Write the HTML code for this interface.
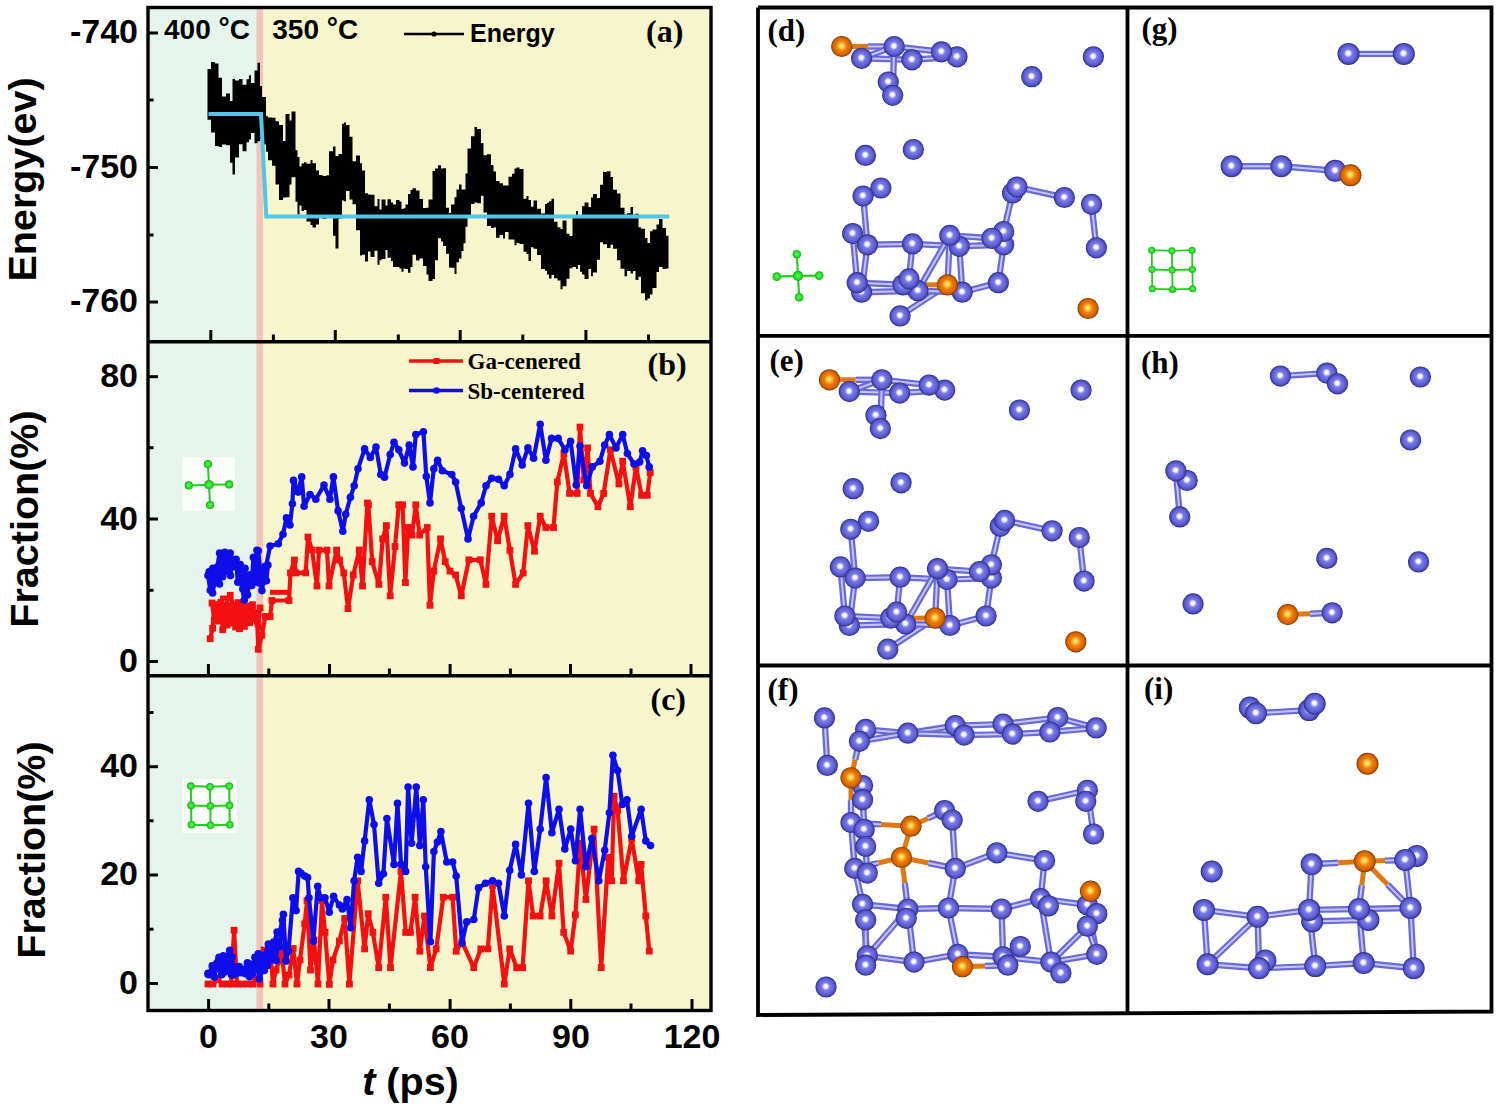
<!DOCTYPE html>
<html><head><meta charset="utf-8"><style>
html,body{margin:0;padding:0;background:#fff;overflow:hidden}
svg{display:block}
</style></head><body>
<svg width="1500" height="1108" viewBox="0 0 1500 1108">
<defs>
<radialGradient id="gp" cx="0.5" cy="0.5" r="0.5" fx="0.48" fy="0.46">
<stop offset="0" stop-color="#ffffff"/><stop offset="0.17" stop-color="#f4f4ff"/>
<stop offset="0.38" stop-color="#7a7ae6"/><stop offset="0.72" stop-color="#6060d6"/><stop offset="0.88" stop-color="#4848b4"/><stop offset="1" stop-color="#262680"/></radialGradient>
<radialGradient id="go" cx="0.5" cy="0.5" r="0.5" fx="0.48" fy="0.46">
<stop offset="0" stop-color="#ffffa0"/><stop offset="0.2" stop-color="#ffcc48"/>
<stop offset="0.48" stop-color="#ee7c06"/><stop offset="0.8" stop-color="#d86400"/><stop offset="0.92" stop-color="#a84c00"/><stop offset="1" stop-color="#6a3000"/></radialGradient>
<radialGradient id="gg" cx="0.5" cy="0.5" r="0.55">
<stop offset="0" stop-color="#5cff5c"/><stop offset="0.6" stop-color="#22dd22"/><stop offset="1" stop-color="#109a10"/></radialGradient>
</defs>
<rect width="1500" height="1108" fill="#fff"/>
<rect x="148" y="7.5" width="109" height="1003.0" fill="#e5f5ec"/>
<rect x="263" y="7.5" width="448" height="1003.0" fill="#f7f5cb"/>
<rect x="256.5" y="7.5" width="6.5" height="1003.0" fill="#f2c4bb"/>
<rect x="182" y="457" width="53" height="54" fill="#fbfdfb" opacity="0.9"/>
<rect x="182" y="779" width="55" height="54" fill="#fbfdfb" opacity="0.9"/>
<polygon points="207.5,69.0 211.0,69.0 211.0,61.9 215.0,61.9 215.0,63.5 218.5,63.5 218.5,77.8 222.0,77.8 222.0,96.5 226.0,96.5 226.0,93.5 230.0,93.5 230.0,101.1 232.5,101.1 232.5,79.0 235.0,79.0 235.0,80.5 239.0,80.5 239.0,79.0 242.5,79.0 242.5,84.8 246.5,84.8 246.5,79.2 249.0,79.2 249.0,75.2 251.0,75.2 251.0,83.1 254.5,83.1 254.5,70.4 257.5,70.4 257.5,62.7 260.0,62.7 260.0,85.9 262.0,85.9 262.0,97.1 266.0,97.1 266.0,116.2 268.0,116.2 268.0,117.6 272.0,117.6 272.0,117.7 275.5,117.7 275.5,121.2 279.0,121.2 279.0,125.1 283.0,125.1 283.0,140.9 285.5,140.9 285.5,114.1 289.5,114.1 289.5,120.4 291.5,120.4 291.5,111.5 295.5,111.5 295.5,150.3 297.5,150.3 297.5,157.0 299.5,157.0 299.5,166.5 301.5,166.5 301.5,163.4 304.0,163.4 304.0,162.2 306.5,162.2 306.5,163.8 310.5,163.8 310.5,160.1 312.5,160.1 312.5,163.2 316.0,163.2 316.0,170.5 319.0,170.5 319.0,175.0 322.5,175.0 322.5,176.0 326.5,176.0 326.5,175.3 329.0,175.3 329.0,151.2 333.0,151.2 333.0,146.5 335.5,146.5 335.5,156.0 338.5,156.0 338.5,154.1 342.0,154.1 342.0,123.7 344.0,123.7 344.0,122.4 346.0,122.4 346.0,125.1 349.5,125.1 349.5,136.7 352.5,136.7 352.5,161.3 356.0,161.3 356.0,155.4 360.0,155.4 360.0,163.2 362.0,163.2 362.0,170.5 365.0,170.5 365.0,193.3 368.0,193.3 368.0,194.4 370.5,194.4 370.5,194.7 374.5,194.7 374.5,206.3 377.5,206.3 377.5,199.1 379.5,199.1 379.5,209.5 381.5,209.5 381.5,199.5 385.5,199.5 385.5,205.6 387.5,205.6 387.5,199.3 391.0,199.3 391.0,202.5 393.0,202.5 393.0,204.5 396.0,204.5 396.0,199.9 399.5,199.9 399.5,201.5 401.5,201.5 401.5,208.9 403.5,208.9 403.5,208.3 405.5,208.3 405.5,204.6 408.0,204.6 408.0,194.0 410.5,194.0 410.5,189.9 412.5,189.9 412.5,188.3 416.0,188.3 416.0,190.5 419.5,190.5 419.5,199.0 423.0,199.0 423.0,208.1 426.5,208.1 426.5,207.8 428.5,207.8 428.5,199.4 432.5,199.4 432.5,171.0 435.0,171.0 435.0,168.6 438.0,168.6 438.0,165.2 441.0,165.2 441.0,168.6 443.0,168.6 443.0,168.2 446.0,168.2 446.0,207.8 449.0,207.8 449.0,212.9 451.0,212.9 451.0,204.6 454.5,204.6 454.5,197.3 456.5,197.3 456.5,189.5 459.0,189.5 459.0,184.6 461.5,184.6 461.5,189.6 463.5,189.6 463.5,189.5 465.5,189.5 465.5,173.5 467.5,173.5 467.5,148.6 471.0,148.6 471.0,136.3 474.5,136.3 474.5,127.0 477.0,127.0 477.0,128.9 481.0,128.9 481.0,143.1 483.5,143.1 483.5,155.2 487.0,155.2 487.0,154.2 491.0,154.2 491.0,164.9 493.5,164.9 493.5,171.5 496.0,171.5 496.0,180.9 499.5,180.9 499.5,183.2 503.0,183.2 503.0,185.6 505.0,185.6 505.0,185.6 508.5,185.6 508.5,176.7 512.0,176.7 512.0,173.7 514.5,173.7 514.5,168.4 516.5,168.4 516.5,167.5 519.5,167.5 519.5,169.1 523.5,169.1 523.5,198.8 526.5,198.8 526.5,196.1 528.5,196.1 528.5,200.1 531.0,200.1 531.0,206.8 533.5,206.8 533.5,200.5 537.0,200.5 537.0,208.8 541.0,208.8 541.0,213.4 545.0,213.4 545.0,204.1 547.0,204.1 547.0,202.8 549.0,202.8 549.0,201.2 551.5,201.2 551.5,198.7 554.0,198.7 554.0,221.7 557.5,221.7 557.5,227.2 560.5,227.2 560.5,229.1 562.5,229.1 562.5,220.5 566.5,220.5 566.5,233.7 569.5,233.7 569.5,235.9 572.5,235.9 572.5,215.2 576.0,215.2 576.0,211.1 578.0,211.1 578.0,215.4 580.0,215.4 580.0,215.4 582.0,215.4 582.0,206.2 584.5,206.2 584.5,202.6 588.5,202.6 588.5,207.1 591.0,207.1 591.0,197.6 593.0,197.6 593.0,194.1 597.0,194.1 597.0,198.0 600.0,198.0 600.0,184.7 603.0,184.7 603.0,172.0 607.0,172.0 607.0,171.3 610.5,171.3 610.5,177.0 613.0,177.0 613.0,189.7 617.0,189.7 617.0,193.6 620.5,193.6 620.5,207.7 624.5,207.7 624.5,214.6 627.0,214.6 627.0,213.3 630.5,213.3 630.5,206.9 633.0,206.9 633.0,214.7 635.5,214.7 635.5,213.7 638.5,213.7 638.5,227.3 641.0,227.3 641.0,228.8 645.0,228.8 645.0,238.1 647.5,238.1 647.5,242.9 650.0,242.9 650.0,231.2 652.5,231.2 652.5,229.5 656.5,229.5 656.5,224.6 659.0,224.6 659.0,218.9 662.5,218.9 662.5,228.0 666.0,228.0 666.0,235.7 668.5,235.7 668.5,268.4 666.0,268.4 666.0,269.1 662.5,269.1 662.5,266.9 659.0,266.9 659.0,272.0 656.5,272.0 656.5,287.9 652.5,287.9 652.5,294.4 650.0,294.4 650.0,298.5 647.5,298.5 647.5,300.2 645.0,300.2 645.0,293.3 641.0,293.3 641.0,276.7 638.5,276.7 638.5,280.0 635.5,280.0 635.5,271.0 633.0,271.0 633.0,273.6 630.5,273.6 630.5,270.9 627.0,270.9 627.0,276.3 624.5,276.3 624.5,268.7 620.5,268.7 620.5,260.2 617.0,260.2 617.0,248.7 613.0,248.7 613.0,244.8 610.5,244.8 610.5,248.1 607.0,248.1 607.0,244.2 603.0,244.2 603.0,242.3 600.0,242.3 600.0,259.8 597.0,259.8 597.0,272.5 593.0,272.5 593.0,276.3 591.0,276.3 591.0,269.1 588.5,269.1 588.5,278.9 584.5,278.9 584.5,274.6 582.0,274.6 582.0,271.7 580.0,271.7 580.0,265.1 578.0,265.1 578.0,269.0 576.0,269.0 576.0,266.9 572.5,266.9 572.5,268.2 569.5,268.2 569.5,278.8 566.5,278.8 566.5,286.2 562.5,286.2 562.5,289.3 560.5,289.3 560.5,280.4 557.5,280.4 557.5,278.2 554.0,278.2 554.0,274.9 551.5,274.9 551.5,278.5 549.0,278.5 549.0,274.4 547.0,274.4 547.0,270.8 545.0,270.8 545.0,269.0 541.0,269.0 541.0,255.1 537.0,255.1 537.0,248.7 533.5,248.7 533.5,247.2 531.0,247.2 531.0,261.1 528.5,261.1 528.5,254.0 526.5,254.0 526.5,251.7 523.5,251.7 523.5,244.1 519.5,244.1 519.5,242.9 516.5,242.9 516.5,245.3 514.5,245.3 514.5,239.4 512.0,239.4 512.0,239.6 508.5,239.6 508.5,232.0 505.0,232.0 505.0,238.5 503.0,238.5 503.0,234.9 499.5,234.9 499.5,237.7 496.0,237.7 496.0,227.5 493.5,227.5 493.5,228.1 491.0,228.1 491.0,226.1 487.0,226.1 487.0,212.6 483.5,212.6 483.5,195.8 481.0,195.8 481.0,203.3 477.0,203.3 477.0,202.4 474.5,202.4 474.5,204.1 471.0,204.1 471.0,215.5 467.5,215.5 467.5,226.7 465.5,226.7 465.5,243.2 463.5,243.2 463.5,251.0 461.5,251.0 461.5,258.6 459.0,258.6 459.0,262.3 456.5,262.3 456.5,273.9 454.5,273.9 454.5,267.7 451.0,267.7 451.0,267.5 449.0,267.5 449.0,253.8 446.0,253.8 446.0,245.9 443.0,245.9 443.0,241.5 441.0,241.5 441.0,238.3 438.0,238.3 438.0,260.3 435.0,260.3 435.0,279.0 432.5,279.0 432.5,280.9 428.5,280.9 428.5,274.4 426.5,274.4 426.5,265.9 423.0,265.9 423.0,258.6 419.5,258.6 419.5,260.6 416.0,260.6 416.0,254.8 412.5,254.8 412.5,266.9 410.5,266.9 410.5,272.8 408.0,272.8 408.0,269.1 405.5,269.1 405.5,268.4 403.5,268.4 403.5,271.8 401.5,271.8 401.5,268.6 399.5,268.6 399.5,266.9 396.0,266.9 396.0,267.1 393.0,267.1 393.0,261.1 391.0,261.1 391.0,257.8 387.5,257.8 387.5,250.0 385.5,250.0 385.5,259.0 381.5,259.0 381.5,260.3 379.5,260.3 379.5,264.7 377.5,264.7 377.5,250.8 374.5,250.8 374.5,256.9 370.5,256.9 370.5,251.6 368.0,251.6 368.0,261.5 365.0,261.5 365.0,254.8 362.0,254.8 362.0,255.4 360.0,255.4 360.0,230.2 356.0,230.2 356.0,204.3 352.5,204.3 352.5,199.5 349.5,199.5 349.5,191.1 346.0,191.1 346.0,201.3 344.0,201.3 344.0,200.5 342.0,200.5 342.0,218.6 338.5,218.6 338.5,248.4 335.5,248.4 335.5,235.7 333.0,235.7 333.0,216.5 329.0,216.5 329.0,216.2 326.5,216.2 326.5,218.7 322.5,218.7 322.5,216.3 319.0,216.3 319.0,224.5 316.0,224.5 316.0,227.4 312.5,227.4 312.5,225.1 310.5,225.1 310.5,221.5 306.5,221.5 306.5,209.9 304.0,209.9 304.0,211.0 301.5,211.0 301.5,205.5 299.5,205.5 299.5,214.4 297.5,214.4 297.5,201.8 295.5,201.8 295.5,177.2 291.5,177.2 291.5,184.6 289.5,184.6 289.5,197.2 285.5,197.2 285.5,197.5 283.0,197.5 283.0,199.9 279.0,199.9 279.0,184.4 275.5,184.4 275.5,165.8 272.0,165.8 272.0,160.2 268.0,160.2 268.0,151.7 266.0,151.7 266.0,144.4 262.0,144.4 262.0,139.1 260.0,139.1 260.0,141.2 257.5,141.2 257.5,143.3 254.5,143.3 254.5,132.9 251.0,132.9 251.0,139.6 249.0,139.6 249.0,142.2 246.5,142.2 246.5,151.2 242.5,151.2 242.5,144.2 239.0,144.2 239.0,157.6 235.0,157.6 235.0,174.4 232.5,174.4 232.5,162.7 230.0,162.7 230.0,145.2 226.0,145.2 226.0,144.6 222.0,144.6 222.0,147.0 218.5,147.0 218.5,145.9 215.0,145.9 215.0,132.5 211.0,132.5 211.0,119.7 207.5,119.7" fill="#000"/>
<polyline points="208.5,114 261,114 266.3,216.5 669.2,216.5" fill="none" stroke="#52c6e8" stroke-width="4"/>
<polyline points="210.2,638.7 212.6,628.2 215.0,604.7 218.5,621.1 223.2,609.4 230.2,595.3 236.0,614.1 241.9,604.7 246.6,618.8 252.5,604.7 257.2,621.1 258.3,649.3 261.9,635.2 265.4,616.5 270.1,616.5 272.0,600.5 289.0,600.5 290.5,572.9 294.4,560.0 296.0,572.9 305.7,572.9 308.0,537.0 312.0,550.0 317.0,586.0 319.0,550.1 327.0,550.1 329.0,586.0 336.6,550.1 339.5,560.0 343.8,573.0 348.0,608.6 353.3,574.9 359.3,550.0 362.5,586.0 367.4,503.0 368.4,504.8 372.2,561.7 378.9,584.4 382.7,538.9 386.4,525.6 390.2,595.8 395.0,546.5 398.8,504.8 402.6,504.8 405.4,582.5 408.2,527.5 412.0,535.1 415.8,504.8 419.6,535.1 427.2,527.5 430.0,605.3 433.8,571.1 440.5,538.9 445.2,561.7 450.0,571.1 455.6,574.9 461.3,595.8 468.9,559.8 480.3,559.8 486.0,584.4 491.7,516.2 497.6,540.8 504.2,516.2 509.9,550.3 515.6,584.4 523.2,573.0 527.9,525.6 534.5,551.2 540.2,516.2 545.9,527.5 553.5,527.5 557.3,482.0 563.9,453.6 569.6,493.4 577.2,493.4 580.0,427.1 583.8,480.1 587.6,447.9 590.5,493.4 598.0,506.7 603.7,493.4 610.4,449.8 618.9,483.9 622.7,461.2 630.3,506.7 636.0,466.9 641.6,495.3 647.3,495.3 650.2,472.5" fill="none" stroke="#f41010" stroke-width="4.2" stroke-linejoin="round"/>
<g fill="#f41010"><rect x="206.8" y="635.3" width="6.8" height="6.8"/><rect x="209.2" y="624.8" width="6.8" height="6.8"/><rect x="211.6" y="601.3" width="6.8" height="6.8"/><rect x="215.1" y="617.7" width="6.8" height="6.8"/><rect x="219.8" y="606.0" width="6.8" height="6.8"/><rect x="226.8" y="591.9" width="6.8" height="6.8"/><rect x="232.6" y="610.7" width="6.8" height="6.8"/><rect x="238.5" y="601.3" width="6.8" height="6.8"/><rect x="243.2" y="615.4" width="6.8" height="6.8"/><rect x="249.1" y="601.3" width="6.8" height="6.8"/><rect x="253.8" y="617.7" width="6.8" height="6.8"/><rect x="254.9" y="645.9" width="6.8" height="6.8"/><rect x="258.5" y="631.8" width="6.8" height="6.8"/><rect x="262.0" y="613.1" width="6.8" height="6.8"/><rect x="266.7" y="613.1" width="6.8" height="6.8"/><rect x="268.6" y="597.1" width="6.8" height="6.8"/><rect x="285.6" y="597.1" width="6.8" height="6.8"/><rect x="287.1" y="569.5" width="6.8" height="6.8"/><rect x="291.0" y="556.6" width="6.8" height="6.8"/><rect x="292.6" y="569.5" width="6.8" height="6.8"/><rect x="302.3" y="569.5" width="6.8" height="6.8"/><rect x="304.6" y="533.6" width="6.8" height="6.8"/><rect x="308.6" y="546.6" width="6.8" height="6.8"/><rect x="313.6" y="582.6" width="6.8" height="6.8"/><rect x="315.6" y="546.7" width="6.8" height="6.8"/><rect x="323.6" y="546.7" width="6.8" height="6.8"/><rect x="325.6" y="582.6" width="6.8" height="6.8"/><rect x="333.2" y="546.7" width="6.8" height="6.8"/><rect x="336.1" y="556.6" width="6.8" height="6.8"/><rect x="340.4" y="569.6" width="6.8" height="6.8"/><rect x="344.6" y="605.2" width="6.8" height="6.8"/><rect x="349.9" y="571.5" width="6.8" height="6.8"/><rect x="355.9" y="546.6" width="6.8" height="6.8"/><rect x="359.1" y="582.6" width="6.8" height="6.8"/><rect x="364.0" y="499.6" width="6.8" height="6.8"/><rect x="365.0" y="501.4" width="6.8" height="6.8"/><rect x="368.8" y="558.3" width="6.8" height="6.8"/><rect x="375.5" y="581.0" width="6.8" height="6.8"/><rect x="379.3" y="535.5" width="6.8" height="6.8"/><rect x="383.0" y="522.2" width="6.8" height="6.8"/><rect x="386.8" y="592.4" width="6.8" height="6.8"/><rect x="391.6" y="543.1" width="6.8" height="6.8"/><rect x="395.4" y="501.4" width="6.8" height="6.8"/><rect x="399.2" y="501.4" width="6.8" height="6.8"/><rect x="402.0" y="579.1" width="6.8" height="6.8"/><rect x="404.8" y="524.1" width="6.8" height="6.8"/><rect x="408.6" y="531.7" width="6.8" height="6.8"/><rect x="412.4" y="501.4" width="6.8" height="6.8"/><rect x="416.2" y="531.7" width="6.8" height="6.8"/><rect x="423.8" y="524.1" width="6.8" height="6.8"/><rect x="426.6" y="601.9" width="6.8" height="6.8"/><rect x="430.4" y="567.7" width="6.8" height="6.8"/><rect x="437.1" y="535.5" width="6.8" height="6.8"/><rect x="441.8" y="558.3" width="6.8" height="6.8"/><rect x="446.6" y="567.7" width="6.8" height="6.8"/><rect x="452.2" y="571.5" width="6.8" height="6.8"/><rect x="457.9" y="592.4" width="6.8" height="6.8"/><rect x="465.5" y="556.4" width="6.8" height="6.8"/><rect x="476.9" y="556.4" width="6.8" height="6.8"/><rect x="482.6" y="581.0" width="6.8" height="6.8"/><rect x="488.3" y="512.8" width="6.8" height="6.8"/><rect x="494.2" y="537.4" width="6.8" height="6.8"/><rect x="500.8" y="512.8" width="6.8" height="6.8"/><rect x="506.5" y="546.9" width="6.8" height="6.8"/><rect x="512.2" y="581.0" width="6.8" height="6.8"/><rect x="519.8" y="569.6" width="6.8" height="6.8"/><rect x="524.5" y="522.2" width="6.8" height="6.8"/><rect x="531.1" y="547.8" width="6.8" height="6.8"/><rect x="536.8" y="512.8" width="6.8" height="6.8"/><rect x="542.5" y="524.1" width="6.8" height="6.8"/><rect x="550.1" y="524.1" width="6.8" height="6.8"/><rect x="553.9" y="478.6" width="6.8" height="6.8"/><rect x="560.5" y="450.2" width="6.8" height="6.8"/><rect x="566.2" y="490.0" width="6.8" height="6.8"/><rect x="573.8" y="490.0" width="6.8" height="6.8"/><rect x="576.6" y="423.7" width="6.8" height="6.8"/><rect x="580.4" y="476.7" width="6.8" height="6.8"/><rect x="584.2" y="444.5" width="6.8" height="6.8"/><rect x="587.1" y="490.0" width="6.8" height="6.8"/><rect x="594.6" y="503.3" width="6.8" height="6.8"/><rect x="600.3" y="490.0" width="6.8" height="6.8"/><rect x="607.0" y="446.4" width="6.8" height="6.8"/><rect x="615.5" y="480.5" width="6.8" height="6.8"/><rect x="619.3" y="457.8" width="6.8" height="6.8"/><rect x="626.9" y="503.3" width="6.8" height="6.8"/><rect x="632.6" y="463.5" width="6.8" height="6.8"/><rect x="638.2" y="491.9" width="6.8" height="6.8"/><rect x="643.9" y="491.9" width="6.8" height="6.8"/><rect x="646.8" y="469.1" width="6.8" height="6.8"/></g>
<polyline points="214.0,615.0 226.0,615.0 226.0,622.0 240.0,622.0 240.0,612.0 252.0,612.0" fill="none" stroke="#f41010" stroke-width="5"/>
<polyline points="270.0,592.3 289.0,592.3" fill="none" stroke="#f41010" stroke-width="5"/>
<polyline points="220.0,598.0 232.0,598.0" fill="none" stroke="#f41010" stroke-width="5"/>
<polyline points="256.0,628.0 264.0,628.0" fill="none" stroke="#f41010" stroke-width="5"/>
<polyline points="256.0,642.0 262.0,642.0" fill="none" stroke="#f41010" stroke-width="5"/>
<polyline points="212.0,603.0 214.3,620.2 216.6,607.6 218.2,615.7 220.9,602.3 222.7,629.7 224.9,610.2 227.0,625.1 228.8,605.7 231.5,622.9 234.0,605.6 235.6,627.0 237.9,602.6 239.5,628.7 241.7,609.9 244.4,626.4 247.1,605.9 249.7,622.7 252.5,612.4 254.2,618.4 256.0,613.4 258.1,624.1 260.1,607.9" fill="none" stroke="#f41010" stroke-width="4.2" stroke-linejoin="round"/>
<g fill="#f41010"><rect x="208.6" y="599.6" width="6.8" height="6.8"/><rect x="210.9" y="616.8" width="6.8" height="6.8"/><rect x="213.2" y="604.2" width="6.8" height="6.8"/><rect x="214.8" y="612.3" width="6.8" height="6.8"/><rect x="217.5" y="598.9" width="6.8" height="6.8"/><rect x="219.3" y="626.3" width="6.8" height="6.8"/><rect x="221.5" y="606.8" width="6.8" height="6.8"/><rect x="223.6" y="621.7" width="6.8" height="6.8"/><rect x="225.4" y="602.3" width="6.8" height="6.8"/><rect x="228.1" y="619.5" width="6.8" height="6.8"/><rect x="230.6" y="602.2" width="6.8" height="6.8"/><rect x="232.2" y="623.6" width="6.8" height="6.8"/><rect x="234.5" y="599.2" width="6.8" height="6.8"/><rect x="236.1" y="625.3" width="6.8" height="6.8"/><rect x="238.3" y="606.5" width="6.8" height="6.8"/><rect x="241.0" y="623.0" width="6.8" height="6.8"/><rect x="243.7" y="602.5" width="6.8" height="6.8"/><rect x="246.3" y="619.3" width="6.8" height="6.8"/><rect x="249.1" y="609.0" width="6.8" height="6.8"/><rect x="250.8" y="615.0" width="6.8" height="6.8"/><rect x="252.6" y="610.0" width="6.8" height="6.8"/><rect x="254.7" y="620.7" width="6.8" height="6.8"/><rect x="256.7" y="604.5" width="6.8" height="6.8"/></g>
<polyline points="209.1,571.9 212.6,593.0 216.1,574.2 219.6,553.1 224.3,571.9 230.2,553.1 234.9,564.8 239.6,574.2 244.3,600.0 249.0,579.0 253.7,574.2 258.3,550.8 261.9,590.6 265.4,569.5 270.1,546.0 278.3,543.7 283.0,534.3 286.5,517.9 290.0,525.0 292.4,503.8 293.5,480.4 298.2,492.1 301.7,476.9 304.1,506.2 310.0,494.5 315.8,499.2 324.0,485.1 329.9,499.2 333.4,476.9 338.1,510.9 342.8,531.3 345.7,514.3 350.4,497.2 354.2,485.8 358.0,468.8 364.6,448.9 370.3,457.4 376.0,447.0 380.8,474.5 384.5,477.3 390.2,454.5 394.0,442.2 398.8,449.8 404.5,463.1 409.2,445.1 413.0,466.9 415.8,434.6 423.4,431.8 426.3,476.4 430.0,502.9 433.8,468.8 437.6,460.2 442.4,470.7 451.8,474.5 455.6,482.0 461.3,508.6 468.0,538.9 473.6,516.2 481.2,502.9 486.0,485.8 491.7,478.2 498.5,479.2 504.2,485.8 509.9,474.4 515.6,448.9 522.2,465.0 527.9,447.9 533.6,458.3 540.2,424.2 545.9,460.2 551.6,438.4 558.2,438.4 564.9,449.8 570.6,441.3 576.2,484.9 580.0,446.0 586.7,485.8 592.3,466.9 599.9,461.2 604.7,445.1 609.4,434.6 616.0,447.9 622.7,434.6 627.4,453.6 634.0,464.0 639.7,462.1 642.6,450.7 646.4,455.5 649.2,466.9" fill="none" stroke="#0e0eea" stroke-width="4.2" stroke-linejoin="round"/>
<g fill="#0e0eea"><circle cx="209.1" cy="571.9" r="3.8"/><circle cx="212.6" cy="593.0" r="3.8"/><circle cx="216.1" cy="574.2" r="3.8"/><circle cx="219.6" cy="553.1" r="3.8"/><circle cx="224.3" cy="571.9" r="3.8"/><circle cx="230.2" cy="553.1" r="3.8"/><circle cx="234.9" cy="564.8" r="3.8"/><circle cx="239.6" cy="574.2" r="3.8"/><circle cx="244.3" cy="600.0" r="3.8"/><circle cx="249.0" cy="579.0" r="3.8"/><circle cx="253.7" cy="574.2" r="3.8"/><circle cx="258.3" cy="550.8" r="3.8"/><circle cx="261.9" cy="590.6" r="3.8"/><circle cx="265.4" cy="569.5" r="3.8"/><circle cx="270.1" cy="546.0" r="3.8"/><circle cx="278.3" cy="543.7" r="3.8"/><circle cx="283.0" cy="534.3" r="3.8"/><circle cx="286.5" cy="517.9" r="3.8"/><circle cx="290.0" cy="525.0" r="3.8"/><circle cx="292.4" cy="503.8" r="3.8"/><circle cx="293.5" cy="480.4" r="3.8"/><circle cx="298.2" cy="492.1" r="3.8"/><circle cx="301.7" cy="476.9" r="3.8"/><circle cx="304.1" cy="506.2" r="3.8"/><circle cx="310.0" cy="494.5" r="3.8"/><circle cx="315.8" cy="499.2" r="3.8"/><circle cx="324.0" cy="485.1" r="3.8"/><circle cx="329.9" cy="499.2" r="3.8"/><circle cx="333.4" cy="476.9" r="3.8"/><circle cx="338.1" cy="510.9" r="3.8"/><circle cx="342.8" cy="531.3" r="3.8"/><circle cx="345.7" cy="514.3" r="3.8"/><circle cx="350.4" cy="497.2" r="3.8"/><circle cx="354.2" cy="485.8" r="3.8"/><circle cx="358.0" cy="468.8" r="3.8"/><circle cx="364.6" cy="448.9" r="3.8"/><circle cx="370.3" cy="457.4" r="3.8"/><circle cx="376.0" cy="447.0" r="3.8"/><circle cx="380.8" cy="474.5" r="3.8"/><circle cx="384.5" cy="477.3" r="3.8"/><circle cx="390.2" cy="454.5" r="3.8"/><circle cx="394.0" cy="442.2" r="3.8"/><circle cx="398.8" cy="449.8" r="3.8"/><circle cx="404.5" cy="463.1" r="3.8"/><circle cx="409.2" cy="445.1" r="3.8"/><circle cx="413.0" cy="466.9" r="3.8"/><circle cx="415.8" cy="434.6" r="3.8"/><circle cx="423.4" cy="431.8" r="3.8"/><circle cx="426.3" cy="476.4" r="3.8"/><circle cx="430.0" cy="502.9" r="3.8"/><circle cx="433.8" cy="468.8" r="3.8"/><circle cx="437.6" cy="460.2" r="3.8"/><circle cx="442.4" cy="470.7" r="3.8"/><circle cx="451.8" cy="474.5" r="3.8"/><circle cx="455.6" cy="482.0" r="3.8"/><circle cx="461.3" cy="508.6" r="3.8"/><circle cx="468.0" cy="538.9" r="3.8"/><circle cx="473.6" cy="516.2" r="3.8"/><circle cx="481.2" cy="502.9" r="3.8"/><circle cx="486.0" cy="485.8" r="3.8"/><circle cx="491.7" cy="478.2" r="3.8"/><circle cx="498.5" cy="479.2" r="3.8"/><circle cx="504.2" cy="485.8" r="3.8"/><circle cx="509.9" cy="474.4" r="3.8"/><circle cx="515.6" cy="448.9" r="3.8"/><circle cx="522.2" cy="465.0" r="3.8"/><circle cx="527.9" cy="447.9" r="3.8"/><circle cx="533.6" cy="458.3" r="3.8"/><circle cx="540.2" cy="424.2" r="3.8"/><circle cx="545.9" cy="460.2" r="3.8"/><circle cx="551.6" cy="438.4" r="3.8"/><circle cx="558.2" cy="438.4" r="3.8"/><circle cx="564.9" cy="449.8" r="3.8"/><circle cx="570.6" cy="441.3" r="3.8"/><circle cx="576.2" cy="484.9" r="3.8"/><circle cx="580.0" cy="446.0" r="3.8"/><circle cx="586.7" cy="485.8" r="3.8"/><circle cx="592.3" cy="466.9" r="3.8"/><circle cx="599.9" cy="461.2" r="3.8"/><circle cx="604.7" cy="445.1" r="3.8"/><circle cx="609.4" cy="434.6" r="3.8"/><circle cx="616.0" cy="447.9" r="3.8"/><circle cx="622.7" cy="434.6" r="3.8"/><circle cx="627.4" cy="453.6" r="3.8"/><circle cx="634.0" cy="464.0" r="3.8"/><circle cx="639.7" cy="462.1" r="3.8"/><circle cx="642.6" cy="450.7" r="3.8"/><circle cx="646.4" cy="455.5" r="3.8"/><circle cx="649.2" cy="466.9" r="3.8"/></g>
<polyline points="208.0,575.6 210.3,590.3 212.8,568.3 215.3,572.8 217.3,567.0 219.5,584.0 221.0,558.8 222.7,576.8 224.8,552.2 226.4,571.4 228.9,561.3 230.5,575.6 232.1,560.2 233.7,566.6 236.1,559.2 237.8,582.3 240.2,564.5 242.8,589.1 245.0,568.4 247.5,594.9 250.1,574.7 251.8,585.5 253.4,557.4 254.9,581.8 257.0,550.3 259.2,583.0 261.0,569.0 263.0,582.0 265.0,566.2 266.4,580.8 267.9,565.1" fill="none" stroke="#0e0eea" stroke-width="4.2" stroke-linejoin="round"/>
<g fill="#0e0eea"><circle cx="208.0" cy="575.6" r="3.8"/><circle cx="210.3" cy="590.3" r="3.8"/><circle cx="212.8" cy="568.3" r="3.8"/><circle cx="215.3" cy="572.8" r="3.8"/><circle cx="217.3" cy="567.0" r="3.8"/><circle cx="219.5" cy="584.0" r="3.8"/><circle cx="221.0" cy="558.8" r="3.8"/><circle cx="222.7" cy="576.8" r="3.8"/><circle cx="224.8" cy="552.2" r="3.8"/><circle cx="226.4" cy="571.4" r="3.8"/><circle cx="228.9" cy="561.3" r="3.8"/><circle cx="230.5" cy="575.6" r="3.8"/><circle cx="232.1" cy="560.2" r="3.8"/><circle cx="233.7" cy="566.6" r="3.8"/><circle cx="236.1" cy="559.2" r="3.8"/><circle cx="237.8" cy="582.3" r="3.8"/><circle cx="240.2" cy="564.5" r="3.8"/><circle cx="242.8" cy="589.1" r="3.8"/><circle cx="245.0" cy="568.4" r="3.8"/><circle cx="247.5" cy="594.9" r="3.8"/><circle cx="250.1" cy="574.7" r="3.8"/><circle cx="251.8" cy="585.5" r="3.8"/><circle cx="253.4" cy="557.4" r="3.8"/><circle cx="254.9" cy="581.8" r="3.8"/><circle cx="257.0" cy="550.3" r="3.8"/><circle cx="259.2" cy="583.0" r="3.8"/><circle cx="261.0" cy="569.0" r="3.8"/><circle cx="263.0" cy="582.0" r="3.8"/><circle cx="265.0" cy="566.2" r="3.8"/><circle cx="266.4" cy="580.8" r="3.8"/><circle cx="267.9" cy="565.1" r="3.8"/></g>
<polyline points="208.0,984.0 213.0,984.0 218.0,979.0 222.0,984.0 228.0,984.0 231.0,984.0 234.1,930.2 237.0,984.0 243.0,984.0 248.0,984.0 252.8,984.0 256.0,978.0 260.0,984.0 264.0,950.0 267.2,965.6 270.0,948.0 273.0,984.0 276.0,970.0 279.0,961.0 281.6,949.7 285.0,984.0 289.0,975.0 293.2,948.5 297.0,984.0 300.0,960.0 304.7,923.8 307.0,900.6 310.5,970.0 314.0,940.0 318.0,984.0 322.0,900.6 325.0,932.4 329.3,984.4 333.0,960.0 339.4,941.0 344.7,918.4 349.4,984.1 357.6,880.8 364.6,948.9 368.2,913.7 372.9,932.4 378.7,967.6 385.8,897.2 390.5,967.6 401.0,871.4 405.7,932.4 410.4,932.4 415.1,897.2 419.8,951.2 424.5,916.0 430.4,967.6 436.2,948.9 443.3,897.2 452.6,897.2 456.2,951.2 462.0,941.8 473.8,967.6 480.8,948.9 487.9,948.9 492.5,885.5 504.3,984.1 509.7,948.8 516.7,967.6 522.6,967.6 528.5,880.8 533.2,916.0 540.2,916.0 546.1,880.8 551.9,916.0 559.0,863.2 563.7,932.4 570.7,951.1 575.4,914.8 580.1,843.2 585.9,899.5 594.1,829.1 601.2,967.6 608.2,857.3 611.7,880.8 614.1,796.3 617.6,810.4 623.5,880.8 631.7,838.5 638.7,880.8 641.1,864.4 645.8,916.0 649.3,951.1" fill="none" stroke="#f41010" stroke-width="4.2" stroke-linejoin="round"/>
<g fill="#f41010"><rect x="204.6" y="980.6" width="6.8" height="6.8"/><rect x="209.6" y="980.6" width="6.8" height="6.8"/><rect x="214.6" y="975.6" width="6.8" height="6.8"/><rect x="218.6" y="980.6" width="6.8" height="6.8"/><rect x="224.6" y="980.6" width="6.8" height="6.8"/><rect x="227.6" y="980.6" width="6.8" height="6.8"/><rect x="230.7" y="926.8" width="6.8" height="6.8"/><rect x="233.6" y="980.6" width="6.8" height="6.8"/><rect x="239.6" y="980.6" width="6.8" height="6.8"/><rect x="244.6" y="980.6" width="6.8" height="6.8"/><rect x="249.4" y="980.6" width="6.8" height="6.8"/><rect x="252.6" y="974.6" width="6.8" height="6.8"/><rect x="256.6" y="980.6" width="6.8" height="6.8"/><rect x="260.6" y="946.6" width="6.8" height="6.8"/><rect x="263.8" y="962.2" width="6.8" height="6.8"/><rect x="266.6" y="944.6" width="6.8" height="6.8"/><rect x="269.6" y="980.6" width="6.8" height="6.8"/><rect x="272.6" y="966.6" width="6.8" height="6.8"/><rect x="275.6" y="957.6" width="6.8" height="6.8"/><rect x="278.2" y="946.3" width="6.8" height="6.8"/><rect x="281.6" y="980.6" width="6.8" height="6.8"/><rect x="285.6" y="971.6" width="6.8" height="6.8"/><rect x="289.8" y="945.1" width="6.8" height="6.8"/><rect x="293.6" y="980.6" width="6.8" height="6.8"/><rect x="296.6" y="956.6" width="6.8" height="6.8"/><rect x="301.3" y="920.4" width="6.8" height="6.8"/><rect x="303.6" y="897.2" width="6.8" height="6.8"/><rect x="307.1" y="966.6" width="6.8" height="6.8"/><rect x="310.6" y="936.6" width="6.8" height="6.8"/><rect x="314.6" y="980.6" width="6.8" height="6.8"/><rect x="318.6" y="897.2" width="6.8" height="6.8"/><rect x="321.6" y="929.0" width="6.8" height="6.8"/><rect x="325.9" y="981.0" width="6.8" height="6.8"/><rect x="329.6" y="956.6" width="6.8" height="6.8"/><rect x="336.0" y="937.6" width="6.8" height="6.8"/><rect x="341.3" y="915.0" width="6.8" height="6.8"/><rect x="346.0" y="980.7" width="6.8" height="6.8"/><rect x="354.2" y="877.4" width="6.8" height="6.8"/><rect x="361.2" y="945.5" width="6.8" height="6.8"/><rect x="364.8" y="910.3" width="6.8" height="6.8"/><rect x="369.5" y="929.0" width="6.8" height="6.8"/><rect x="375.3" y="964.2" width="6.8" height="6.8"/><rect x="382.4" y="893.8" width="6.8" height="6.8"/><rect x="387.1" y="964.2" width="6.8" height="6.8"/><rect x="397.6" y="868.0" width="6.8" height="6.8"/><rect x="402.3" y="929.0" width="6.8" height="6.8"/><rect x="407.0" y="929.0" width="6.8" height="6.8"/><rect x="411.7" y="893.8" width="6.8" height="6.8"/><rect x="416.4" y="947.8" width="6.8" height="6.8"/><rect x="421.1" y="912.6" width="6.8" height="6.8"/><rect x="427.0" y="964.2" width="6.8" height="6.8"/><rect x="432.8" y="945.5" width="6.8" height="6.8"/><rect x="439.9" y="893.8" width="6.8" height="6.8"/><rect x="449.2" y="893.8" width="6.8" height="6.8"/><rect x="452.8" y="947.8" width="6.8" height="6.8"/><rect x="458.6" y="938.4" width="6.8" height="6.8"/><rect x="470.4" y="964.2" width="6.8" height="6.8"/><rect x="477.4" y="945.5" width="6.8" height="6.8"/><rect x="484.5" y="945.5" width="6.8" height="6.8"/><rect x="489.1" y="882.1" width="6.8" height="6.8"/><rect x="500.9" y="980.7" width="6.8" height="6.8"/><rect x="506.3" y="945.4" width="6.8" height="6.8"/><rect x="513.3" y="964.2" width="6.8" height="6.8"/><rect x="519.2" y="964.2" width="6.8" height="6.8"/><rect x="525.1" y="877.4" width="6.8" height="6.8"/><rect x="529.8" y="912.6" width="6.8" height="6.8"/><rect x="536.8" y="912.6" width="6.8" height="6.8"/><rect x="542.7" y="877.4" width="6.8" height="6.8"/><rect x="548.5" y="912.6" width="6.8" height="6.8"/><rect x="555.6" y="859.8" width="6.8" height="6.8"/><rect x="560.3" y="929.0" width="6.8" height="6.8"/><rect x="567.3" y="947.7" width="6.8" height="6.8"/><rect x="572.0" y="911.4" width="6.8" height="6.8"/><rect x="576.7" y="839.8" width="6.8" height="6.8"/><rect x="582.5" y="896.1" width="6.8" height="6.8"/><rect x="590.7" y="825.7" width="6.8" height="6.8"/><rect x="597.8" y="964.2" width="6.8" height="6.8"/><rect x="604.8" y="853.9" width="6.8" height="6.8"/><rect x="608.3" y="877.4" width="6.8" height="6.8"/><rect x="610.7" y="792.9" width="6.8" height="6.8"/><rect x="614.2" y="807.0" width="6.8" height="6.8"/><rect x="620.1" y="877.4" width="6.8" height="6.8"/><rect x="628.3" y="835.1" width="6.8" height="6.8"/><rect x="635.3" y="877.4" width="6.8" height="6.8"/><rect x="637.7" y="861.0" width="6.8" height="6.8"/><rect x="642.4" y="912.6" width="6.8" height="6.8"/><rect x="645.9" y="947.7" width="6.8" height="6.8"/></g>
<polyline points="208.2,974.4 212.6,966.2 219.0,957.3 224.0,961.1 229.7,950.4 231.6,975.0 236.7,967.5 241.7,971.3 246.8,967.5 253.1,965.0 258.2,954.2 259.4,978.8 264.5,956.1 268.3,944.1 273.3,946.0 277.1,932.1 279.6,933.3 283.4,914.4 286.0,961.1 288.5,951.0 292.9,897.9 296.1,910.6 298.6,871.4 301.1,873.2 304.7,876.1 307.6,877.5 309.0,897.8 313.4,941.1 317.7,886.2 320.6,897.8 325.0,897.8 329.3,912.2 333.6,896.3 339.4,905.0 342.3,909.0 347.0,899.6 350.6,927.7 354.1,880.8 357.6,857.3 361.1,871.4 364.6,840.9 369.3,799.8 374.0,824.5 378.7,883.2 383.4,873.8 386.9,818.6 394.0,864.4 397.5,803.4 401.0,864.4 405.7,871.4 408.1,787.0 411.6,843.3 416.3,787.0 419.8,845.6 423.3,799.8 425.7,866.7 430.4,941.8 433.9,851.5 437.4,842.1 440.9,831.5 446.8,862.0 452.6,862.0 456.2,876.1 462.0,943.0 466.7,921.9 473.8,919.5 478.5,887.9 485.5,883.2 492.5,880.8 498.4,883.2 504.3,916.0 509.7,870.2 515.6,844.4 521.4,874.9 528.5,803.3 534.3,871.4 540.2,829.1 546.1,777.5 551.9,832.7 559.0,809.2 564.8,849.1 570.7,829.1 575.4,860.8 580.1,809.2 585.9,866.7 591.8,838.5 598.8,880.8 604.7,850.3 609.4,812.7 612.9,755.2 617.6,770.5 622.3,804.5 627.0,799.8 631.7,836.2 641.1,809.2 645.8,840.9 650.5,845.6" fill="none" stroke="#0e0eea" stroke-width="4.2" stroke-linejoin="round"/>
<g fill="#0e0eea"><circle cx="208.2" cy="974.4" r="3.8"/><circle cx="212.6" cy="966.2" r="3.8"/><circle cx="219.0" cy="957.3" r="3.8"/><circle cx="224.0" cy="961.1" r="3.8"/><circle cx="229.7" cy="950.4" r="3.8"/><circle cx="231.6" cy="975.0" r="3.8"/><circle cx="236.7" cy="967.5" r="3.8"/><circle cx="241.7" cy="971.3" r="3.8"/><circle cx="246.8" cy="967.5" r="3.8"/><circle cx="253.1" cy="965.0" r="3.8"/><circle cx="258.2" cy="954.2" r="3.8"/><circle cx="259.4" cy="978.8" r="3.8"/><circle cx="264.5" cy="956.1" r="3.8"/><circle cx="268.3" cy="944.1" r="3.8"/><circle cx="273.3" cy="946.0" r="3.8"/><circle cx="277.1" cy="932.1" r="3.8"/><circle cx="279.6" cy="933.3" r="3.8"/><circle cx="283.4" cy="914.4" r="3.8"/><circle cx="286.0" cy="961.1" r="3.8"/><circle cx="288.5" cy="951.0" r="3.8"/><circle cx="292.9" cy="897.9" r="3.8"/><circle cx="296.1" cy="910.6" r="3.8"/><circle cx="298.6" cy="871.4" r="3.8"/><circle cx="301.1" cy="873.2" r="3.8"/><circle cx="304.7" cy="876.1" r="3.8"/><circle cx="307.6" cy="877.5" r="3.8"/><circle cx="309.0" cy="897.8" r="3.8"/><circle cx="313.4" cy="941.1" r="3.8"/><circle cx="317.7" cy="886.2" r="3.8"/><circle cx="320.6" cy="897.8" r="3.8"/><circle cx="325.0" cy="897.8" r="3.8"/><circle cx="329.3" cy="912.2" r="3.8"/><circle cx="333.6" cy="896.3" r="3.8"/><circle cx="339.4" cy="905.0" r="3.8"/><circle cx="342.3" cy="909.0" r="3.8"/><circle cx="347.0" cy="899.6" r="3.8"/><circle cx="350.6" cy="927.7" r="3.8"/><circle cx="354.1" cy="880.8" r="3.8"/><circle cx="357.6" cy="857.3" r="3.8"/><circle cx="361.1" cy="871.4" r="3.8"/><circle cx="364.6" cy="840.9" r="3.8"/><circle cx="369.3" cy="799.8" r="3.8"/><circle cx="374.0" cy="824.5" r="3.8"/><circle cx="378.7" cy="883.2" r="3.8"/><circle cx="383.4" cy="873.8" r="3.8"/><circle cx="386.9" cy="818.6" r="3.8"/><circle cx="394.0" cy="864.4" r="3.8"/><circle cx="397.5" cy="803.4" r="3.8"/><circle cx="401.0" cy="864.4" r="3.8"/><circle cx="405.7" cy="871.4" r="3.8"/><circle cx="408.1" cy="787.0" r="3.8"/><circle cx="411.6" cy="843.3" r="3.8"/><circle cx="416.3" cy="787.0" r="3.8"/><circle cx="419.8" cy="845.6" r="3.8"/><circle cx="423.3" cy="799.8" r="3.8"/><circle cx="425.7" cy="866.7" r="3.8"/><circle cx="430.4" cy="941.8" r="3.8"/><circle cx="433.9" cy="851.5" r="3.8"/><circle cx="437.4" cy="842.1" r="3.8"/><circle cx="440.9" cy="831.5" r="3.8"/><circle cx="446.8" cy="862.0" r="3.8"/><circle cx="452.6" cy="862.0" r="3.8"/><circle cx="456.2" cy="876.1" r="3.8"/><circle cx="462.0" cy="943.0" r="3.8"/><circle cx="466.7" cy="921.9" r="3.8"/><circle cx="473.8" cy="919.5" r="3.8"/><circle cx="478.5" cy="887.9" r="3.8"/><circle cx="485.5" cy="883.2" r="3.8"/><circle cx="492.5" cy="880.8" r="3.8"/><circle cx="498.4" cy="883.2" r="3.8"/><circle cx="504.3" cy="916.0" r="3.8"/><circle cx="509.7" cy="870.2" r="3.8"/><circle cx="515.6" cy="844.4" r="3.8"/><circle cx="521.4" cy="874.9" r="3.8"/><circle cx="528.5" cy="803.3" r="3.8"/><circle cx="534.3" cy="871.4" r="3.8"/><circle cx="540.2" cy="829.1" r="3.8"/><circle cx="546.1" cy="777.5" r="3.8"/><circle cx="551.9" cy="832.7" r="3.8"/><circle cx="559.0" cy="809.2" r="3.8"/><circle cx="564.8" cy="849.1" r="3.8"/><circle cx="570.7" cy="829.1" r="3.8"/><circle cx="575.4" cy="860.8" r="3.8"/><circle cx="580.1" cy="809.2" r="3.8"/><circle cx="585.9" cy="866.7" r="3.8"/><circle cx="591.8" cy="838.5" r="3.8"/><circle cx="598.8" cy="880.8" r="3.8"/><circle cx="604.7" cy="850.3" r="3.8"/><circle cx="609.4" cy="812.7" r="3.8"/><circle cx="612.9" cy="755.2" r="3.8"/><circle cx="617.6" cy="770.5" r="3.8"/><circle cx="622.3" cy="804.5" r="3.8"/><circle cx="627.0" cy="799.8" r="3.8"/><circle cx="631.7" cy="836.2" r="3.8"/><circle cx="641.1" cy="809.2" r="3.8"/><circle cx="645.8" cy="840.9" r="3.8"/><circle cx="650.5" cy="845.6" r="3.8"/></g>
<polyline points="208.0,973.3 209.8,974.6 212.3,965.9 214.3,977.1 215.8,965.1 217.9,969.1 219.8,962.4 221.7,974.7 223.3,955.9 224.8,971.9 227.4,958.2 229.7,969.8 232.0,956.9 233.7,974.8 236.0,967.3 237.5,973.1 239.2,966.5 241.5,972.7 244.0,969.8 245.5,973.7 247.4,962.7 249.4,976.7 250.9,964.0 252.4,973.8 254.9,957.2 256.3,968.1 258.4,953.7 259.9,972.2 262.4,956.5 264.3,970.4 265.8,954.8 267.4,965.4 269.9,945.6 272.0,959.7 273.6,942.0 276.2,960.6 277.7,941.1 280.2,946.7 282.4,920.3" fill="none" stroke="#0e0eea" stroke-width="4.2" stroke-linejoin="round"/>
<g fill="#0e0eea"><circle cx="208.0" cy="973.3" r="3.8"/><circle cx="209.8" cy="974.6" r="3.8"/><circle cx="212.3" cy="965.9" r="3.8"/><circle cx="214.3" cy="977.1" r="3.8"/><circle cx="215.8" cy="965.1" r="3.8"/><circle cx="217.9" cy="969.1" r="3.8"/><circle cx="219.8" cy="962.4" r="3.8"/><circle cx="221.7" cy="974.7" r="3.8"/><circle cx="223.3" cy="955.9" r="3.8"/><circle cx="224.8" cy="971.9" r="3.8"/><circle cx="227.4" cy="958.2" r="3.8"/><circle cx="229.7" cy="969.8" r="3.8"/><circle cx="232.0" cy="956.9" r="3.8"/><circle cx="233.7" cy="974.8" r="3.8"/><circle cx="236.0" cy="967.3" r="3.8"/><circle cx="237.5" cy="973.1" r="3.8"/><circle cx="239.2" cy="966.5" r="3.8"/><circle cx="241.5" cy="972.7" r="3.8"/><circle cx="244.0" cy="969.8" r="3.8"/><circle cx="245.5" cy="973.7" r="3.8"/><circle cx="247.4" cy="962.7" r="3.8"/><circle cx="249.4" cy="976.7" r="3.8"/><circle cx="250.9" cy="964.0" r="3.8"/><circle cx="252.4" cy="973.8" r="3.8"/><circle cx="254.9" cy="957.2" r="3.8"/><circle cx="256.3" cy="968.1" r="3.8"/><circle cx="258.4" cy="953.7" r="3.8"/><circle cx="259.9" cy="972.2" r="3.8"/><circle cx="262.4" cy="956.5" r="3.8"/><circle cx="264.3" cy="970.4" r="3.8"/><circle cx="265.8" cy="954.8" r="3.8"/><circle cx="267.4" cy="965.4" r="3.8"/><circle cx="269.9" cy="945.6" r="3.8"/><circle cx="272.0" cy="959.7" r="3.8"/><circle cx="273.6" cy="942.0" r="3.8"/><circle cx="276.2" cy="960.6" r="3.8"/><circle cx="277.7" cy="941.1" r="3.8"/><circle cx="280.2" cy="946.7" r="3.8"/><circle cx="282.4" cy="920.3" r="3.8"/></g>
<g stroke="#000" fill="none">
<rect x="148" y="7.5" width="563" height="1003.0" stroke-width="3.4"/>
<line x1="148" y1="341.8" x2="711" y2="341.8" stroke-width="3.6"/>
<line x1="148" y1="675.7" x2="711" y2="675.7" stroke-width="3.6"/>
<g stroke-width="3"><line x1="148" y1="33" x2="158" y2="33"/><line x1="148" y1="100" x2="153.5" y2="100"/><line x1="148" y1="167.5" x2="158" y2="167.5"/><line x1="148" y1="235" x2="153.5" y2="235"/><line x1="148" y1="302" x2="158" y2="302"/><line x1="210.8" y1="340" x2="210.8" y2="330"/><line x1="273.4" y1="340" x2="273.4" y2="334.5"/><line x1="335.3" y1="340" x2="335.3" y2="330"/><line x1="398.3" y1="340" x2="398.3" y2="334.5"/><line x1="460.2" y1="340" x2="460.2" y2="330"/><line x1="522.8" y1="340" x2="522.8" y2="334.5"/><line x1="585.9" y1="340" x2="585.9" y2="330"/><line x1="648.5" y1="340" x2="648.5" y2="334.5"/><line x1="148" y1="661.5" x2="158" y2="661.5"/><line x1="148" y1="590.3" x2="153.5" y2="590.3"/><line x1="148" y1="519" x2="158" y2="519"/><line x1="148" y1="447.7" x2="153.5" y2="447.7"/><line x1="148" y1="376.7" x2="158" y2="376.7"/><line x1="208.4" y1="674" x2="208.4" y2="664"/><line x1="268.8" y1="674" x2="268.8" y2="668.5"/><line x1="329.5" y1="674" x2="329.5" y2="664"/><line x1="389.4" y1="674" x2="389.4" y2="668.5"/><line x1="450.1" y1="674" x2="450.1" y2="664"/><line x1="510.4" y1="674" x2="510.4" y2="668.5"/><line x1="570.5" y1="674" x2="570.5" y2="664"/><line x1="631" y1="674" x2="631" y2="668.5"/><line x1="691" y1="674" x2="691" y2="664"/><line x1="148" y1="983.5" x2="158" y2="983.5"/><line x1="148" y1="929.2" x2="153.5" y2="929.2"/><line x1="148" y1="875" x2="158" y2="875"/><line x1="148" y1="820.8" x2="153.5" y2="820.8"/><line x1="148" y1="766.7" x2="158" y2="766.7"/><line x1="148" y1="712.5" x2="153.5" y2="712.5"/><line x1="208.6" y1="1009" x2="208.6" y2="999"/><line x1="268.8" y1="1009" x2="268.8" y2="1003.5"/><line x1="329" y1="1009" x2="329" y2="999"/><line x1="389.4" y1="1009" x2="389.4" y2="1003.5"/><line x1="450.1" y1="1009" x2="450.1" y2="999"/><line x1="510.4" y1="1009" x2="510.4" y2="1003.5"/><line x1="570.8" y1="1009" x2="570.8" y2="999"/><line x1="631" y1="1009" x2="631" y2="1003.5"/><line x1="692" y1="1009" x2="692" y2="999"/></g>
</g>
<text x="138" y="43.2" font-size="34" text-anchor="end" font-family="Liberation Sans, sans-serif" font-weight="bold" >-740</text>
<text x="138" y="177.89999999999998" font-size="34" text-anchor="end" font-family="Liberation Sans, sans-serif" font-weight="bold" >-750</text>
<text x="138" y="312.2" font-size="34" text-anchor="end" font-family="Liberation Sans, sans-serif" font-weight="bold" >-760</text>
<text x="138" y="386.9" font-size="34" text-anchor="end" font-family="Liberation Sans, sans-serif" font-weight="bold" >80</text>
<text x="138" y="529.5" font-size="34" text-anchor="end" font-family="Liberation Sans, sans-serif" font-weight="bold" >40</text>
<text x="138" y="671.8000000000001" font-size="34" text-anchor="end" font-family="Liberation Sans, sans-serif" font-weight="bold" >0</text>
<text x="138" y="777.4000000000001" font-size="34" text-anchor="end" font-family="Liberation Sans, sans-serif" font-weight="bold" >40</text>
<text x="138" y="885.2" font-size="34" text-anchor="end" font-family="Liberation Sans, sans-serif" font-weight="bold" >20</text>
<text x="138" y="993.7" font-size="34" text-anchor="end" font-family="Liberation Sans, sans-serif" font-weight="bold" >0</text>
<text x="208.5" y="1048" font-size="34" text-anchor="middle" font-family="Liberation Sans, sans-serif" font-weight="bold" >0</text>
<text x="329" y="1048" font-size="34" text-anchor="middle" font-family="Liberation Sans, sans-serif" font-weight="bold" >30</text>
<text x="450" y="1048" font-size="34" text-anchor="middle" font-family="Liberation Sans, sans-serif" font-weight="bold" >60</text>
<text x="571" y="1048" font-size="34" text-anchor="middle" font-family="Liberation Sans, sans-serif" font-weight="bold" >90</text>
<text x="692" y="1048" font-size="34" text-anchor="middle" font-family="Liberation Sans, sans-serif" font-weight="bold" >120</text>
<text transform="translate(36,179.4) rotate(-90)" font-size="39.5" text-anchor="middle" font-family="Liberation Sans, sans-serif" font-weight="bold">Energy(ev)</text>
<text transform="translate(38,519) rotate(-90)" font-size="39.5" text-anchor="middle" font-family="Liberation Sans, sans-serif" font-weight="bold">Fraction(%)</text>
<text transform="translate(44.5,850) rotate(-90)" font-size="39.5" text-anchor="middle" font-family="Liberation Sans, sans-serif" font-weight="bold">Fraction(%)</text>
<text x="410.5" y="1094.5" font-size="39.5" text-anchor="middle" font-family="Liberation Sans, sans-serif" font-weight="bold"><tspan font-style="italic">t</tspan> (ps)</text>
<text x="164" y="39.4" font-size="28" text-anchor="start" font-family="Liberation Sans, sans-serif" font-weight="bold" >400 <tspan dy="-2.5">°</tspan><tspan dy="2.5">C</tspan></text>
<text x="272.3" y="39.4" font-size="28" text-anchor="start" font-family="Liberation Sans, sans-serif" font-weight="bold" >350 <tspan dy="-2.5">°</tspan><tspan dy="2.5">C</tspan></text>
<line x1="404" y1="34" x2="464" y2="34" stroke="#000" stroke-width="2.4"/><circle cx="434" cy="34" r="2.6"/>
<text x="470" y="42" font-size="25" text-anchor="start" font-family="Liberation Sans, sans-serif" font-weight="bold" >Energy</text>
<line x1="409" y1="361" x2="463" y2="361" stroke="#f41010" stroke-width="3.6"/><rect x="433.5" y="358" width="6" height="6" fill="#f41010"/>
<line x1="409" y1="390.5" x2="463" y2="390.5" stroke="#0e0eea" stroke-width="3.6"/><circle cx="436.5" cy="390.5" r="3.3" fill="#0e0eea"/>
<text x="467.5" y="369" font-size="23" text-anchor="start" font-family="Liberation Serif, serif" font-weight="bold" >Ga-cenered</text>
<text x="467.5" y="398.5" font-size="23" text-anchor="start" font-family="Liberation Serif, serif" font-weight="bold" >Sb-centered</text>
<text x="646" y="41.5" font-size="32" text-anchor="start" font-family="Liberation Serif, serif" font-weight="bold" >(a)</text>
<text x="647.5" y="374.5" font-size="32" text-anchor="start" font-family="Liberation Serif, serif" font-weight="bold" >(b)</text>
<text x="650.5" y="709.5" font-size="32" text-anchor="start" font-family="Liberation Serif, serif" font-weight="bold" >(c)</text>
<line x1="209" y1="484.7" x2="207.9" y2="464.09999999999997" stroke="#22cc22" stroke-width="2.0"/>
<line x1="209" y1="484.7" x2="188.8" y2="485.4" stroke="#22cc22" stroke-width="2.0"/>
<line x1="209" y1="484.7" x2="229.2" y2="484.4" stroke="#22cc22" stroke-width="2.0"/>
<line x1="209" y1="484.7" x2="210.1" y2="505.0" stroke="#22cc22" stroke-width="2.0"/>
<circle cx="207.9" cy="464.09999999999997" r="4.1" fill="url(#gg)"/>
<circle cx="188.8" cy="485.4" r="4.1" fill="url(#gg)"/>
<circle cx="229.2" cy="484.4" r="4.1" fill="url(#gg)"/>
<circle cx="210.1" cy="505.0" r="4.1" fill="url(#gg)"/>
<circle cx="209" cy="484.7" r="4.8" fill="url(#gg)"/>
<line x1="190.8" y1="786.1" x2="210.0" y2="786.7" stroke="#22cc22" stroke-width="2"/>
<line x1="190.8" y1="786.1" x2="191.10000000000002" y2="805.4" stroke="#22cc22" stroke-width="2"/>
<line x1="210.0" y1="786.7" x2="229.20000000000002" y2="786.1" stroke="#22cc22" stroke-width="2"/>
<line x1="210.0" y1="786.7" x2="210.3" y2="806.0" stroke="#22cc22" stroke-width="2"/>
<line x1="229.20000000000002" y1="786.1" x2="229.50000000000003" y2="805.4" stroke="#22cc22" stroke-width="2"/>
<line x1="191.10000000000002" y1="805.4" x2="210.3" y2="806.0" stroke="#22cc22" stroke-width="2"/>
<line x1="191.10000000000002" y1="805.4" x2="191.4" y2="824.7" stroke="#22cc22" stroke-width="2"/>
<line x1="210.3" y1="806.0" x2="229.50000000000003" y2="805.4" stroke="#22cc22" stroke-width="2"/>
<line x1="210.3" y1="806.0" x2="210.6" y2="825.3000000000001" stroke="#22cc22" stroke-width="2"/>
<line x1="229.50000000000003" y1="805.4" x2="229.8" y2="824.7" stroke="#22cc22" stroke-width="2"/>
<line x1="191.4" y1="824.7" x2="210.6" y2="825.3000000000001" stroke="#22cc22" stroke-width="2"/>
<line x1="210.6" y1="825.3000000000001" x2="229.8" y2="824.7" stroke="#22cc22" stroke-width="2"/>
<circle cx="190.8" cy="786.1" r="3.8" fill="url(#gg)"/>
<circle cx="210.0" cy="786.7" r="3.8" fill="url(#gg)"/>
<circle cx="229.20000000000002" cy="786.1" r="3.8" fill="url(#gg)"/>
<circle cx="191.10000000000002" cy="805.4" r="3.8" fill="url(#gg)"/>
<circle cx="210.3" cy="806.0" r="3.8" fill="url(#gg)"/>
<circle cx="229.50000000000003" cy="805.4" r="3.8" fill="url(#gg)"/>
<circle cx="191.4" cy="824.7" r="3.8" fill="url(#gg)"/>
<circle cx="210.6" cy="825.3000000000001" r="3.8" fill="url(#gg)"/>
<circle cx="229.8" cy="824.7" r="3.8" fill="url(#gg)"/>
<g stroke="#000" fill="none" stroke-width="3.8">
<polyline points="758,7.5 1491.5,7.5 1491.5,1011.5 758,1015 758,7.5"/>
<line x1="1127.5" y1="7.5" x2="1127.5" y2="1013"/>
<line x1="758" y1="335.8" x2="1491.5" y2="335.8"/>
<line x1="758" y1="665.5" x2="1491.5" y2="665.5"/>
</g>
<text x="767.5" y="41" font-size="31" text-anchor="start" font-family="Liberation Serif, serif" font-weight="bold" >(d)</text>
<text x="769.5" y="370.7" font-size="31" text-anchor="start" font-family="Liberation Serif, serif" font-weight="bold" >(e)</text>
<text x="767.5" y="699.7" font-size="31" text-anchor="start" font-family="Liberation Serif, serif" font-weight="bold" >(f)</text>
<text x="1141.5" y="38.5" font-size="31" text-anchor="start" font-family="Liberation Serif, serif" font-weight="bold" >(g)</text>
<text x="1141" y="372.7" font-size="31" text-anchor="start" font-family="Liberation Serif, serif" font-weight="bold" >(h)</text>
<text x="1144" y="699.4" font-size="31" text-anchor="start" font-family="Liberation Serif, serif" font-weight="bold" >(i)</text>
<line x1="841.8" y1="46.5" x2="868.0" y2="46.5" stroke="#e07a10" stroke-width="5"/>
<line x1="868.0" y1="46.5" x2="894.2" y2="46.5" stroke="#6a6ad6" stroke-width="6.4"/>
<line x1="868.0" y1="46.5" x2="894.2" y2="46.5" stroke="#c4c4f6" stroke-width="2"/>
<line x1="894.2" y1="46.5" x2="941.5" y2="51.8" stroke="#6a6ad6" stroke-width="6.4"/>
<line x1="894.2" y1="46.5" x2="941.5" y2="51.8" stroke="#c4c4f6" stroke-width="2"/>
<line x1="941.5" y1="51.8" x2="957.0" y2="56.8" stroke="#6a6ad6" stroke-width="6.4"/>
<line x1="941.5" y1="51.8" x2="957.0" y2="56.8" stroke="#c4c4f6" stroke-width="2"/>
<line x1="861.6" y1="58.3" x2="912.0" y2="59.8" stroke="#6a6ad6" stroke-width="6.4"/>
<line x1="861.6" y1="58.3" x2="912.0" y2="59.8" stroke="#c4c4f6" stroke-width="2"/>
<line x1="912.0" y1="59.8" x2="957.0" y2="56.8" stroke="#6a6ad6" stroke-width="6.4"/>
<line x1="912.0" y1="59.8" x2="957.0" y2="56.8" stroke="#c4c4f6" stroke-width="2"/>
<line x1="861.6" y1="58.3" x2="894.2" y2="46.5" stroke="#6a6ad6" stroke-width="6.4"/>
<line x1="861.6" y1="58.3" x2="894.2" y2="46.5" stroke="#c4c4f6" stroke-width="2"/>
<line x1="894.2" y1="46.5" x2="892.7" y2="95.3" stroke="#6a6ad6" stroke-width="6.4"/>
<line x1="894.2" y1="46.5" x2="892.7" y2="95.3" stroke="#c4c4f6" stroke-width="2"/>
<line x1="863.1" y1="196.0" x2="867.5" y2="244.8" stroke="#6a6ad6" stroke-width="6.4"/>
<line x1="863.1" y1="196.0" x2="867.5" y2="244.8" stroke="#c4c4f6" stroke-width="2"/>
<line x1="852.7" y1="233.6" x2="857.2" y2="282.7" stroke="#6a6ad6" stroke-width="6.4"/>
<line x1="852.7" y1="233.6" x2="857.2" y2="282.7" stroke="#c4c4f6" stroke-width="2"/>
<line x1="867.5" y1="244.8" x2="861.6" y2="292.2" stroke="#6a6ad6" stroke-width="6.4"/>
<line x1="867.5" y1="244.8" x2="861.6" y2="292.2" stroke="#c4c4f6" stroke-width="2"/>
<line x1="867.5" y1="244.8" x2="912.5" y2="243.9" stroke="#6a6ad6" stroke-width="6.4"/>
<line x1="867.5" y1="244.8" x2="912.5" y2="243.9" stroke="#c4c4f6" stroke-width="2"/>
<line x1="912.5" y1="243.9" x2="959.3" y2="246.3" stroke="#6a6ad6" stroke-width="6.4"/>
<line x1="912.5" y1="243.9" x2="959.3" y2="246.3" stroke="#c4c4f6" stroke-width="2"/>
<line x1="959.3" y1="246.3" x2="1003.7" y2="244.8" stroke="#6a6ad6" stroke-width="6.4"/>
<line x1="959.3" y1="246.3" x2="1003.7" y2="244.8" stroke="#c4c4f6" stroke-width="2"/>
<line x1="852.7" y1="233.6" x2="867.5" y2="244.8" stroke="#6a6ad6" stroke-width="6.4"/>
<line x1="852.7" y1="233.6" x2="867.5" y2="244.8" stroke="#c4c4f6" stroke-width="2"/>
<line x1="949.8" y1="235.4" x2="991.9" y2="238.3" stroke="#6a6ad6" stroke-width="6.4"/>
<line x1="949.8" y1="235.4" x2="991.9" y2="238.3" stroke="#c4c4f6" stroke-width="2"/>
<line x1="857.2" y1="282.7" x2="903.1" y2="284.8" stroke="#6a6ad6" stroke-width="6.4"/>
<line x1="857.2" y1="282.7" x2="903.1" y2="284.8" stroke="#c4c4f6" stroke-width="2"/>
<line x1="947.5" y1="284.8" x2="925.3" y2="284.8" stroke="#e07a10" stroke-width="5"/>
<line x1="925.3" y1="284.8" x2="903.1" y2="284.8" stroke="#6a6ad6" stroke-width="6.4"/>
<line x1="925.3" y1="284.8" x2="903.1" y2="284.8" stroke="#c4c4f6" stroke-width="2"/>
<line x1="962.3" y1="292.2" x2="998.4" y2="282.7" stroke="#6a6ad6" stroke-width="6.4"/>
<line x1="962.3" y1="292.2" x2="998.4" y2="282.7" stroke="#c4c4f6" stroke-width="2"/>
<line x1="912.5" y1="243.9" x2="909.0" y2="278.9" stroke="#6a6ad6" stroke-width="6.4"/>
<line x1="912.5" y1="243.9" x2="909.0" y2="278.9" stroke="#c4c4f6" stroke-width="2"/>
<line x1="959.3" y1="246.3" x2="962.3" y2="292.2" stroke="#6a6ad6" stroke-width="6.4"/>
<line x1="959.3" y1="246.3" x2="962.3" y2="292.2" stroke="#c4c4f6" stroke-width="2"/>
<line x1="949.8" y1="235.4" x2="947.5" y2="284.8" stroke="#6a6ad6" stroke-width="6.4"/>
<line x1="949.8" y1="235.4" x2="947.5" y2="284.8" stroke="#c4c4f6" stroke-width="2"/>
<line x1="1003.7" y1="244.8" x2="998.4" y2="282.7" stroke="#6a6ad6" stroke-width="6.4"/>
<line x1="1003.7" y1="244.8" x2="998.4" y2="282.7" stroke="#c4c4f6" stroke-width="2"/>
<line x1="900.1" y1="315.9" x2="947.5" y2="284.8" stroke="#6a6ad6" stroke-width="6.4"/>
<line x1="900.1" y1="315.9" x2="947.5" y2="284.8" stroke="#c4c4f6" stroke-width="2"/>
<line x1="917.9" y1="290.7" x2="949.8" y2="235.4" stroke="#6a6ad6" stroke-width="6.4"/>
<line x1="917.9" y1="290.7" x2="949.8" y2="235.4" stroke="#c4c4f6" stroke-width="2"/>
<line x1="1012.6" y1="193.0" x2="1003.7" y2="231.5" stroke="#6a6ad6" stroke-width="6.4"/>
<line x1="1012.6" y1="193.0" x2="1003.7" y2="231.5" stroke="#c4c4f6" stroke-width="2"/>
<line x1="1017.0" y1="187.1" x2="1064.4" y2="197.5" stroke="#6a6ad6" stroke-width="6.4"/>
<line x1="1017.0" y1="187.1" x2="1064.4" y2="197.5" stroke="#c4c4f6" stroke-width="2"/>
<line x1="1091.6" y1="204.3" x2="1096.4" y2="247.8" stroke="#6a6ad6" stroke-width="6.4"/>
<line x1="1091.6" y1="204.3" x2="1096.4" y2="247.8" stroke="#c4c4f6" stroke-width="2"/>
<line x1="861.6" y1="292.2" x2="917.9" y2="290.7" stroke="#6a6ad6" stroke-width="6.4"/>
<line x1="861.6" y1="292.2" x2="917.9" y2="290.7" stroke="#c4c4f6" stroke-width="2"/>
<line x1="917.9" y1="290.7" x2="962.3" y2="292.2" stroke="#6a6ad6" stroke-width="6.4"/>
<line x1="917.9" y1="290.7" x2="962.3" y2="292.2" stroke="#c4c4f6" stroke-width="2"/>
<line x1="991.9" y1="238.3" x2="1003.7" y2="231.5" stroke="#6a6ad6" stroke-width="6.4"/>
<line x1="991.9" y1="238.3" x2="1003.7" y2="231.5" stroke="#c4c4f6" stroke-width="2"/>
<circle cx="861.6" cy="58.3" r="10.6" fill="url(#gp)"/>
<circle cx="912.0" cy="59.8" r="10.6" fill="url(#gp)"/>
<circle cx="957.0" cy="56.8" r="10.6" fill="url(#gp)"/>
<circle cx="888.3" cy="82.0" r="10.6" fill="url(#gp)"/>
<circle cx="861.6" cy="292.2" r="10.6" fill="url(#gp)"/>
<circle cx="917.9" cy="290.7" r="10.6" fill="url(#gp)"/>
<circle cx="962.3" cy="292.2" r="10.6" fill="url(#gp)"/>
<circle cx="959.3" cy="246.3" r="10.6" fill="url(#gp)"/>
<circle cx="1003.7" cy="244.8" r="10.6" fill="url(#gp)"/>
<circle cx="1003.7" cy="231.5" r="10.6" fill="url(#gp)"/>
<circle cx="1012.6" cy="193.0" r="10.6" fill="url(#gp)"/>
<circle cx="903.1" cy="284.8" r="10.6" fill="url(#gp)"/>
<circle cx="841.8" cy="46.5" r="10.6" fill="url(#go)"/>
<circle cx="894.2" cy="46.5" r="10.6" fill="url(#gp)"/>
<circle cx="941.5" cy="51.8" r="10.6" fill="url(#gp)"/>
<circle cx="892.7" cy="95.3" r="10.6" fill="url(#gp)"/>
<circle cx="1093.4" cy="56.8" r="10.6" fill="url(#gp)"/>
<circle cx="1031.8" cy="76.7" r="10.6" fill="url(#gp)"/>
<circle cx="865.5" cy="155.4" r="10.6" fill="url(#gp)"/>
<circle cx="913.4" cy="149.5" r="10.6" fill="url(#gp)"/>
<circle cx="880.9" cy="188.0" r="10.6" fill="url(#gp)"/>
<circle cx="863.1" cy="196.0" r="10.6" fill="url(#gp)"/>
<circle cx="1017.0" cy="187.1" r="10.6" fill="url(#gp)"/>
<circle cx="1064.4" cy="197.5" r="10.6" fill="url(#gp)"/>
<circle cx="1091.6" cy="204.3" r="10.6" fill="url(#gp)"/>
<circle cx="1096.4" cy="247.8" r="10.6" fill="url(#gp)"/>
<circle cx="852.7" cy="233.6" r="10.6" fill="url(#gp)"/>
<circle cx="867.5" cy="244.8" r="10.6" fill="url(#gp)"/>
<circle cx="912.5" cy="243.9" r="10.6" fill="url(#gp)"/>
<circle cx="949.8" cy="235.4" r="10.6" fill="url(#gp)"/>
<circle cx="991.9" cy="238.3" r="10.6" fill="url(#gp)"/>
<circle cx="857.2" cy="282.7" r="10.6" fill="url(#gp)"/>
<circle cx="909.0" cy="278.9" r="10.6" fill="url(#gp)"/>
<circle cx="998.4" cy="282.7" r="10.6" fill="url(#gp)"/>
<circle cx="900.1" cy="315.9" r="10.6" fill="url(#gp)"/>
<circle cx="1088.1" cy="308.5" r="10.6" fill="url(#go)"/>
<circle cx="947.5" cy="284.8" r="10.6" fill="url(#go)"/>
<line x1="829.5" y1="379.8" x2="855.7" y2="379.8" stroke="#e07a10" stroke-width="5"/>
<line x1="855.7" y1="379.8" x2="881.9" y2="379.8" stroke="#6a6ad6" stroke-width="6.4"/>
<line x1="855.7" y1="379.8" x2="881.9" y2="379.8" stroke="#c4c4f6" stroke-width="2"/>
<line x1="881.9" y1="379.8" x2="929.2" y2="385.1" stroke="#6a6ad6" stroke-width="6.4"/>
<line x1="881.9" y1="379.8" x2="929.2" y2="385.1" stroke="#c4c4f6" stroke-width="2"/>
<line x1="929.2" y1="385.1" x2="944.7" y2="390.1" stroke="#6a6ad6" stroke-width="6.4"/>
<line x1="929.2" y1="385.1" x2="944.7" y2="390.1" stroke="#c4c4f6" stroke-width="2"/>
<line x1="849.3" y1="391.6" x2="899.7" y2="393.1" stroke="#6a6ad6" stroke-width="6.4"/>
<line x1="849.3" y1="391.6" x2="899.7" y2="393.1" stroke="#c4c4f6" stroke-width="2"/>
<line x1="899.7" y1="393.1" x2="944.7" y2="390.1" stroke="#6a6ad6" stroke-width="6.4"/>
<line x1="899.7" y1="393.1" x2="944.7" y2="390.1" stroke="#c4c4f6" stroke-width="2"/>
<line x1="849.3" y1="391.6" x2="881.9" y2="379.8" stroke="#6a6ad6" stroke-width="6.4"/>
<line x1="849.3" y1="391.6" x2="881.9" y2="379.8" stroke="#c4c4f6" stroke-width="2"/>
<line x1="881.9" y1="379.8" x2="880.4" y2="428.6" stroke="#6a6ad6" stroke-width="6.4"/>
<line x1="881.9" y1="379.8" x2="880.4" y2="428.6" stroke="#c4c4f6" stroke-width="2"/>
<line x1="850.8" y1="529.3" x2="855.2" y2="578.1" stroke="#6a6ad6" stroke-width="6.4"/>
<line x1="850.8" y1="529.3" x2="855.2" y2="578.1" stroke="#c4c4f6" stroke-width="2"/>
<line x1="840.4" y1="566.9" x2="844.9" y2="616.0" stroke="#6a6ad6" stroke-width="6.4"/>
<line x1="840.4" y1="566.9" x2="844.9" y2="616.0" stroke="#c4c4f6" stroke-width="2"/>
<line x1="855.2" y1="578.1" x2="849.3" y2="625.5" stroke="#6a6ad6" stroke-width="6.4"/>
<line x1="855.2" y1="578.1" x2="849.3" y2="625.5" stroke="#c4c4f6" stroke-width="2"/>
<line x1="855.2" y1="578.1" x2="900.2" y2="577.2" stroke="#6a6ad6" stroke-width="6.4"/>
<line x1="855.2" y1="578.1" x2="900.2" y2="577.2" stroke="#c4c4f6" stroke-width="2"/>
<line x1="900.2" y1="577.2" x2="947.0" y2="579.6" stroke="#6a6ad6" stroke-width="6.4"/>
<line x1="900.2" y1="577.2" x2="947.0" y2="579.6" stroke="#c4c4f6" stroke-width="2"/>
<line x1="947.0" y1="579.6" x2="991.4" y2="578.1" stroke="#6a6ad6" stroke-width="6.4"/>
<line x1="947.0" y1="579.6" x2="991.4" y2="578.1" stroke="#c4c4f6" stroke-width="2"/>
<line x1="840.4" y1="566.9" x2="855.2" y2="578.1" stroke="#6a6ad6" stroke-width="6.4"/>
<line x1="840.4" y1="566.9" x2="855.2" y2="578.1" stroke="#c4c4f6" stroke-width="2"/>
<line x1="937.5" y1="568.7" x2="979.6" y2="571.6" stroke="#6a6ad6" stroke-width="6.4"/>
<line x1="937.5" y1="568.7" x2="979.6" y2="571.6" stroke="#c4c4f6" stroke-width="2"/>
<line x1="844.9" y1="616.0" x2="890.8" y2="618.1" stroke="#6a6ad6" stroke-width="6.4"/>
<line x1="844.9" y1="616.0" x2="890.8" y2="618.1" stroke="#c4c4f6" stroke-width="2"/>
<line x1="935.2" y1="618.1" x2="913.0" y2="618.1" stroke="#e07a10" stroke-width="5"/>
<line x1="913.0" y1="618.1" x2="890.8" y2="618.1" stroke="#6a6ad6" stroke-width="6.4"/>
<line x1="913.0" y1="618.1" x2="890.8" y2="618.1" stroke="#c4c4f6" stroke-width="2"/>
<line x1="950.0" y1="625.5" x2="986.1" y2="616.0" stroke="#6a6ad6" stroke-width="6.4"/>
<line x1="950.0" y1="625.5" x2="986.1" y2="616.0" stroke="#c4c4f6" stroke-width="2"/>
<line x1="900.2" y1="577.2" x2="896.7" y2="612.2" stroke="#6a6ad6" stroke-width="6.4"/>
<line x1="900.2" y1="577.2" x2="896.7" y2="612.2" stroke="#c4c4f6" stroke-width="2"/>
<line x1="947.0" y1="579.6" x2="950.0" y2="625.5" stroke="#6a6ad6" stroke-width="6.4"/>
<line x1="947.0" y1="579.6" x2="950.0" y2="625.5" stroke="#c4c4f6" stroke-width="2"/>
<line x1="937.5" y1="568.7" x2="935.2" y2="618.1" stroke="#6a6ad6" stroke-width="6.4"/>
<line x1="937.5" y1="568.7" x2="935.2" y2="618.1" stroke="#c4c4f6" stroke-width="2"/>
<line x1="991.4" y1="578.1" x2="986.1" y2="616.0" stroke="#6a6ad6" stroke-width="6.4"/>
<line x1="991.4" y1="578.1" x2="986.1" y2="616.0" stroke="#c4c4f6" stroke-width="2"/>
<line x1="887.8" y1="649.2" x2="935.2" y2="618.1" stroke="#6a6ad6" stroke-width="6.4"/>
<line x1="887.8" y1="649.2" x2="935.2" y2="618.1" stroke="#c4c4f6" stroke-width="2"/>
<line x1="905.6" y1="624.0" x2="937.5" y2="568.7" stroke="#6a6ad6" stroke-width="6.4"/>
<line x1="905.6" y1="624.0" x2="937.5" y2="568.7" stroke="#c4c4f6" stroke-width="2"/>
<line x1="1000.3" y1="526.3" x2="991.4" y2="564.8" stroke="#6a6ad6" stroke-width="6.4"/>
<line x1="1000.3" y1="526.3" x2="991.4" y2="564.8" stroke="#c4c4f6" stroke-width="2"/>
<line x1="1004.7" y1="520.4" x2="1052.1" y2="530.8" stroke="#6a6ad6" stroke-width="6.4"/>
<line x1="1004.7" y1="520.4" x2="1052.1" y2="530.8" stroke="#c4c4f6" stroke-width="2"/>
<line x1="1079.3" y1="537.6" x2="1084.1" y2="581.1" stroke="#6a6ad6" stroke-width="6.4"/>
<line x1="1079.3" y1="537.6" x2="1084.1" y2="581.1" stroke="#c4c4f6" stroke-width="2"/>
<line x1="849.3" y1="625.5" x2="905.6" y2="624.0" stroke="#6a6ad6" stroke-width="6.4"/>
<line x1="849.3" y1="625.5" x2="905.6" y2="624.0" stroke="#c4c4f6" stroke-width="2"/>
<line x1="905.6" y1="624.0" x2="950.0" y2="625.5" stroke="#6a6ad6" stroke-width="6.4"/>
<line x1="905.6" y1="624.0" x2="950.0" y2="625.5" stroke="#c4c4f6" stroke-width="2"/>
<line x1="979.6" y1="571.6" x2="991.4" y2="564.8" stroke="#6a6ad6" stroke-width="6.4"/>
<line x1="979.6" y1="571.6" x2="991.4" y2="564.8" stroke="#c4c4f6" stroke-width="2"/>
<circle cx="849.3" cy="391.6" r="10.6" fill="url(#gp)"/>
<circle cx="899.7" cy="393.1" r="10.6" fill="url(#gp)"/>
<circle cx="944.7" cy="390.1" r="10.6" fill="url(#gp)"/>
<circle cx="876.0" cy="415.3" r="10.6" fill="url(#gp)"/>
<circle cx="849.3" cy="625.5" r="10.6" fill="url(#gp)"/>
<circle cx="905.6" cy="624.0" r="10.6" fill="url(#gp)"/>
<circle cx="950.0" cy="625.5" r="10.6" fill="url(#gp)"/>
<circle cx="947.0" cy="579.6" r="10.6" fill="url(#gp)"/>
<circle cx="991.4" cy="578.1" r="10.6" fill="url(#gp)"/>
<circle cx="991.4" cy="564.8" r="10.6" fill="url(#gp)"/>
<circle cx="1000.3" cy="526.3" r="10.6" fill="url(#gp)"/>
<circle cx="890.8" cy="618.1" r="10.6" fill="url(#gp)"/>
<circle cx="829.5" cy="379.8" r="10.6" fill="url(#go)"/>
<circle cx="881.9" cy="379.8" r="10.6" fill="url(#gp)"/>
<circle cx="929.2" cy="385.1" r="10.6" fill="url(#gp)"/>
<circle cx="880.4" cy="428.6" r="10.6" fill="url(#gp)"/>
<circle cx="1081.1" cy="390.1" r="10.6" fill="url(#gp)"/>
<circle cx="1019.5" cy="410.0" r="10.6" fill="url(#gp)"/>
<circle cx="853.2" cy="488.7" r="10.6" fill="url(#gp)"/>
<circle cx="901.1" cy="482.8" r="10.6" fill="url(#gp)"/>
<circle cx="868.6" cy="521.3" r="10.6" fill="url(#gp)"/>
<circle cx="850.8" cy="529.3" r="10.6" fill="url(#gp)"/>
<circle cx="1004.7" cy="520.4" r="10.6" fill="url(#gp)"/>
<circle cx="1052.1" cy="530.8" r="10.6" fill="url(#gp)"/>
<circle cx="1079.3" cy="537.6" r="10.6" fill="url(#gp)"/>
<circle cx="1084.1" cy="581.1" r="10.6" fill="url(#gp)"/>
<circle cx="840.4" cy="566.9" r="10.6" fill="url(#gp)"/>
<circle cx="855.2" cy="578.1" r="10.6" fill="url(#gp)"/>
<circle cx="900.2" cy="577.2" r="10.6" fill="url(#gp)"/>
<circle cx="937.5" cy="568.7" r="10.6" fill="url(#gp)"/>
<circle cx="979.6" cy="571.6" r="10.6" fill="url(#gp)"/>
<circle cx="844.9" cy="616.0" r="10.6" fill="url(#gp)"/>
<circle cx="896.7" cy="612.2" r="10.6" fill="url(#gp)"/>
<circle cx="986.1" cy="616.0" r="10.6" fill="url(#gp)"/>
<circle cx="887.8" cy="649.2" r="10.6" fill="url(#gp)"/>
<circle cx="1075.8" cy="641.8" r="10.6" fill="url(#go)"/>
<circle cx="935.2" cy="618.1" r="10.6" fill="url(#go)"/>
<line x1="798" y1="275.9" x2="796.845" y2="254.26999999999998" stroke="#22cc22" stroke-width="2.1"/>
<line x1="798" y1="275.9" x2="776.79" y2="276.635" stroke="#22cc22" stroke-width="2.1"/>
<line x1="798" y1="275.9" x2="819.21" y2="275.585" stroke="#22cc22" stroke-width="2.1"/>
<line x1="798" y1="275.9" x2="799.155" y2="297.215" stroke="#22cc22" stroke-width="2.1"/>
<circle cx="796.845" cy="254.26999999999998" r="4.305" fill="url(#gg)"/>
<circle cx="776.79" cy="276.635" r="4.305" fill="url(#gg)"/>
<circle cx="819.21" cy="275.585" r="4.305" fill="url(#gg)"/>
<circle cx="799.155" cy="297.215" r="4.305" fill="url(#gg)"/>
<circle cx="798" cy="275.9" r="5.04" fill="url(#gg)"/>
<line x1="824.5" y1="717.9" x2="827.3" y2="765.4" stroke="#6a6ad6" stroke-width="6.4"/>
<line x1="824.5" y1="717.9" x2="827.3" y2="765.4" stroke="#c4c4f6" stroke-width="2"/>
<line x1="865.7" y1="729.4" x2="907.9" y2="733.2" stroke="#6a6ad6" stroke-width="6.4"/>
<line x1="865.7" y1="729.4" x2="907.9" y2="733.2" stroke="#c4c4f6" stroke-width="2"/>
<line x1="859.5" y1="741.3" x2="907.9" y2="733.2" stroke="#6a6ad6" stroke-width="6.4"/>
<line x1="859.5" y1="741.3" x2="907.9" y2="733.2" stroke="#c4c4f6" stroke-width="2"/>
<line x1="907.9" y1="733.2" x2="955.3" y2="725.7" stroke="#6a6ad6" stroke-width="6.4"/>
<line x1="907.9" y1="733.2" x2="955.3" y2="725.7" stroke="#c4c4f6" stroke-width="2"/>
<line x1="907.9" y1="733.2" x2="964.1" y2="735.1" stroke="#6a6ad6" stroke-width="6.4"/>
<line x1="907.9" y1="733.2" x2="964.1" y2="735.1" stroke="#c4c4f6" stroke-width="2"/>
<line x1="955.3" y1="725.7" x2="1003.1" y2="724.1" stroke="#6a6ad6" stroke-width="6.4"/>
<line x1="955.3" y1="725.7" x2="1003.1" y2="724.1" stroke="#c4c4f6" stroke-width="2"/>
<line x1="964.1" y1="735.1" x2="1012.5" y2="734.1" stroke="#6a6ad6" stroke-width="6.4"/>
<line x1="964.1" y1="735.1" x2="1012.5" y2="734.1" stroke="#c4c4f6" stroke-width="2"/>
<line x1="1003.1" y1="724.1" x2="1057.7" y2="717.6" stroke="#6a6ad6" stroke-width="6.4"/>
<line x1="1003.1" y1="724.1" x2="1057.7" y2="717.6" stroke="#c4c4f6" stroke-width="2"/>
<line x1="1012.5" y1="734.1" x2="1049.9" y2="732.0" stroke="#6a6ad6" stroke-width="6.4"/>
<line x1="1012.5" y1="734.1" x2="1049.9" y2="732.0" stroke="#c4c4f6" stroke-width="2"/>
<line x1="1057.7" y1="717.6" x2="1096.2" y2="727.9" stroke="#6a6ad6" stroke-width="6.4"/>
<line x1="1057.7" y1="717.6" x2="1096.2" y2="727.9" stroke="#c4c4f6" stroke-width="2"/>
<line x1="1049.9" y1="732.0" x2="1096.2" y2="727.9" stroke="#6a6ad6" stroke-width="6.4"/>
<line x1="1049.9" y1="732.0" x2="1096.2" y2="727.9" stroke="#c4c4f6" stroke-width="2"/>
<line x1="851.0" y1="777.8" x2="855.2" y2="759.5" stroke="#e07a10" stroke-width="5"/>
<line x1="855.2" y1="759.5" x2="859.5" y2="741.3" stroke="#6a6ad6" stroke-width="6.4"/>
<line x1="855.2" y1="759.5" x2="859.5" y2="741.3" stroke="#c4c4f6" stroke-width="2"/>
<line x1="851.0" y1="777.8" x2="851.0" y2="800.1" stroke="#e07a10" stroke-width="5"/>
<line x1="851.0" y1="800.1" x2="851.0" y2="822.5" stroke="#6a6ad6" stroke-width="6.4"/>
<line x1="851.0" y1="800.1" x2="851.0" y2="822.5" stroke="#c4c4f6" stroke-width="2"/>
<line x1="851.0" y1="822.5" x2="854.8" y2="868.4" stroke="#6a6ad6" stroke-width="6.4"/>
<line x1="851.0" y1="822.5" x2="854.8" y2="868.4" stroke="#c4c4f6" stroke-width="2"/>
<line x1="854.8" y1="868.4" x2="862.6" y2="904.3" stroke="#6a6ad6" stroke-width="6.4"/>
<line x1="854.8" y1="868.4" x2="862.6" y2="904.3" stroke="#c4c4f6" stroke-width="2"/>
<line x1="862.6" y1="904.3" x2="867.3" y2="955.8" stroke="#6a6ad6" stroke-width="6.4"/>
<line x1="862.6" y1="904.3" x2="867.3" y2="955.8" stroke="#c4c4f6" stroke-width="2"/>
<line x1="862.6" y1="785.6" x2="862.6" y2="799.7" stroke="#6a6ad6" stroke-width="6.4"/>
<line x1="862.6" y1="785.6" x2="862.6" y2="799.7" stroke="#c4c4f6" stroke-width="2"/>
<line x1="862.6" y1="799.7" x2="865.7" y2="846.5" stroke="#6a6ad6" stroke-width="6.4"/>
<line x1="862.6" y1="799.7" x2="865.7" y2="846.5" stroke="#c4c4f6" stroke-width="2"/>
<line x1="911.0" y1="826.2" x2="881.0" y2="824.4" stroke="#e07a10" stroke-width="5"/>
<line x1="881.0" y1="824.4" x2="851.0" y2="822.5" stroke="#6a6ad6" stroke-width="6.4"/>
<line x1="881.0" y1="824.4" x2="851.0" y2="822.5" stroke="#c4c4f6" stroke-width="2"/>
<line x1="911.0" y1="826.2" x2="927.9" y2="818.4" stroke="#e07a10" stroke-width="5"/>
<line x1="927.9" y1="818.4" x2="944.7" y2="810.6" stroke="#6a6ad6" stroke-width="6.4"/>
<line x1="927.9" y1="818.4" x2="944.7" y2="810.6" stroke="#c4c4f6" stroke-width="2"/>
<line x1="911.0" y1="826.2" x2="901.6" y2="857.5" stroke="#e07a10" stroke-width="5"/>
<line x1="901.6" y1="857.5" x2="878.2" y2="863.0" stroke="#e07a10" stroke-width="5"/>
<line x1="878.2" y1="863.0" x2="854.8" y2="868.4" stroke="#6a6ad6" stroke-width="6.4"/>
<line x1="878.2" y1="863.0" x2="854.8" y2="868.4" stroke="#c4c4f6" stroke-width="2"/>
<line x1="901.6" y1="857.5" x2="928.5" y2="863.0" stroke="#e07a10" stroke-width="5"/>
<line x1="928.5" y1="863.0" x2="955.3" y2="868.4" stroke="#6a6ad6" stroke-width="6.4"/>
<line x1="928.5" y1="863.0" x2="955.3" y2="868.4" stroke="#c4c4f6" stroke-width="2"/>
<line x1="901.6" y1="857.5" x2="904.8" y2="883.2" stroke="#e07a10" stroke-width="5"/>
<line x1="904.8" y1="883.2" x2="907.9" y2="909.0" stroke="#6a6ad6" stroke-width="6.4"/>
<line x1="904.8" y1="883.2" x2="907.9" y2="909.0" stroke="#c4c4f6" stroke-width="2"/>
<line x1="952.2" y1="820.0" x2="955.3" y2="868.4" stroke="#6a6ad6" stroke-width="6.4"/>
<line x1="952.2" y1="820.0" x2="955.3" y2="868.4" stroke="#c4c4f6" stroke-width="2"/>
<line x1="955.3" y1="868.4" x2="996.9" y2="852.8" stroke="#6a6ad6" stroke-width="6.4"/>
<line x1="955.3" y1="868.4" x2="996.9" y2="852.8" stroke="#c4c4f6" stroke-width="2"/>
<line x1="996.9" y1="852.8" x2="1044.6" y2="860.6" stroke="#6a6ad6" stroke-width="6.4"/>
<line x1="996.9" y1="852.8" x2="1044.6" y2="860.6" stroke="#c4c4f6" stroke-width="2"/>
<line x1="955.3" y1="868.4" x2="948.5" y2="908.0" stroke="#6a6ad6" stroke-width="6.4"/>
<line x1="955.3" y1="868.4" x2="948.5" y2="908.0" stroke="#c4c4f6" stroke-width="2"/>
<line x1="1044.6" y1="860.6" x2="1040.6" y2="898.7" stroke="#6a6ad6" stroke-width="6.4"/>
<line x1="1044.6" y1="860.6" x2="1040.6" y2="898.7" stroke="#c4c4f6" stroke-width="2"/>
<line x1="862.6" y1="904.3" x2="907.9" y2="909.0" stroke="#6a6ad6" stroke-width="6.4"/>
<line x1="862.6" y1="904.3" x2="907.9" y2="909.0" stroke="#c4c4f6" stroke-width="2"/>
<line x1="907.9" y1="909.0" x2="948.5" y2="908.0" stroke="#6a6ad6" stroke-width="6.4"/>
<line x1="907.9" y1="909.0" x2="948.5" y2="908.0" stroke="#c4c4f6" stroke-width="2"/>
<line x1="948.5" y1="908.0" x2="1001.5" y2="909.0" stroke="#6a6ad6" stroke-width="6.4"/>
<line x1="948.5" y1="908.0" x2="1001.5" y2="909.0" stroke="#c4c4f6" stroke-width="2"/>
<line x1="1001.5" y1="909.0" x2="1040.6" y2="898.7" stroke="#6a6ad6" stroke-width="6.4"/>
<line x1="1001.5" y1="909.0" x2="1040.6" y2="898.7" stroke="#c4c4f6" stroke-width="2"/>
<line x1="1040.6" y1="898.7" x2="1087.4" y2="904.9" stroke="#6a6ad6" stroke-width="6.4"/>
<line x1="1040.6" y1="898.7" x2="1087.4" y2="904.9" stroke="#c4c4f6" stroke-width="2"/>
<line x1="907.9" y1="909.0" x2="914.1" y2="962.1" stroke="#6a6ad6" stroke-width="6.4"/>
<line x1="907.9" y1="909.0" x2="914.1" y2="962.1" stroke="#c4c4f6" stroke-width="2"/>
<line x1="948.5" y1="908.0" x2="957.8" y2="954.3" stroke="#6a6ad6" stroke-width="6.4"/>
<line x1="948.5" y1="908.0" x2="957.8" y2="954.3" stroke="#c4c4f6" stroke-width="2"/>
<line x1="1001.5" y1="909.0" x2="1003.1" y2="956.8" stroke="#6a6ad6" stroke-width="6.4"/>
<line x1="1001.5" y1="909.0" x2="1003.1" y2="956.8" stroke="#c4c4f6" stroke-width="2"/>
<line x1="1040.6" y1="898.7" x2="1050.9" y2="962.1" stroke="#6a6ad6" stroke-width="6.4"/>
<line x1="1040.6" y1="898.7" x2="1050.9" y2="962.1" stroke="#c4c4f6" stroke-width="2"/>
<line x1="1087.4" y1="904.9" x2="1096.8" y2="954.3" stroke="#6a6ad6" stroke-width="6.4"/>
<line x1="1087.4" y1="904.9" x2="1096.8" y2="954.3" stroke="#c4c4f6" stroke-width="2"/>
<line x1="867.3" y1="955.8" x2="914.1" y2="962.1" stroke="#6a6ad6" stroke-width="6.4"/>
<line x1="867.3" y1="955.8" x2="914.1" y2="962.1" stroke="#c4c4f6" stroke-width="2"/>
<line x1="914.1" y1="962.1" x2="957.8" y2="954.3" stroke="#6a6ad6" stroke-width="6.4"/>
<line x1="914.1" y1="962.1" x2="957.8" y2="954.3" stroke="#c4c4f6" stroke-width="2"/>
<line x1="957.8" y1="954.3" x2="1003.1" y2="956.8" stroke="#6a6ad6" stroke-width="6.4"/>
<line x1="957.8" y1="954.3" x2="1003.1" y2="956.8" stroke="#c4c4f6" stroke-width="2"/>
<line x1="1003.1" y1="956.8" x2="1050.9" y2="962.1" stroke="#6a6ad6" stroke-width="6.4"/>
<line x1="1003.1" y1="956.8" x2="1050.9" y2="962.1" stroke="#c4c4f6" stroke-width="2"/>
<line x1="1050.9" y1="962.1" x2="1096.8" y2="954.3" stroke="#6a6ad6" stroke-width="6.4"/>
<line x1="1050.9" y1="962.1" x2="1096.8" y2="954.3" stroke="#c4c4f6" stroke-width="2"/>
<line x1="867.3" y1="955.8" x2="907.9" y2="909.0" stroke="#6a6ad6" stroke-width="6.4"/>
<line x1="867.3" y1="955.8" x2="907.9" y2="909.0" stroke="#c4c4f6" stroke-width="2"/>
<line x1="1038.1" y1="801.3" x2="1087.4" y2="790.3" stroke="#6a6ad6" stroke-width="6.4"/>
<line x1="1038.1" y1="801.3" x2="1087.4" y2="790.3" stroke="#c4c4f6" stroke-width="2"/>
<line x1="1087.4" y1="790.3" x2="1093.6" y2="834.0" stroke="#6a6ad6" stroke-width="6.4"/>
<line x1="1087.4" y1="790.3" x2="1093.6" y2="834.0" stroke="#c4c4f6" stroke-width="2"/>
<line x1="962.5" y1="966.7" x2="985.1" y2="966.0" stroke="#e07a10" stroke-width="5"/>
<line x1="985.1" y1="966.0" x2="1007.8" y2="965.2" stroke="#6a6ad6" stroke-width="6.4"/>
<line x1="985.1" y1="966.0" x2="1007.8" y2="965.2" stroke="#c4c4f6" stroke-width="2"/>
<line x1="1087.4" y1="926.2" x2="1096.8" y2="954.3" stroke="#6a6ad6" stroke-width="6.4"/>
<line x1="1087.4" y1="926.2" x2="1096.8" y2="954.3" stroke="#c4c4f6" stroke-width="2"/>
<line x1="1050.9" y1="962.1" x2="1087.4" y2="926.2" stroke="#6a6ad6" stroke-width="6.4"/>
<line x1="1050.9" y1="962.1" x2="1087.4" y2="926.2" stroke="#c4c4f6" stroke-width="2"/>
<line x1="864.2" y1="829.4" x2="867.3" y2="873.1" stroke="#6a6ad6" stroke-width="6.4"/>
<line x1="864.2" y1="829.4" x2="867.3" y2="873.1" stroke="#c4c4f6" stroke-width="2"/>
<line x1="865.7" y1="919.9" x2="865.7" y2="965.2" stroke="#6a6ad6" stroke-width="6.4"/>
<line x1="865.7" y1="919.9" x2="865.7" y2="965.2" stroke="#c4c4f6" stroke-width="2"/>
<circle cx="824.5" cy="717.9" r="10.6" fill="url(#gp)"/>
<circle cx="827.3" cy="765.4" r="10.6" fill="url(#gp)"/>
<circle cx="865.7" cy="729.4" r="10.6" fill="url(#gp)"/>
<circle cx="859.5" cy="741.3" r="10.6" fill="url(#gp)"/>
<circle cx="907.9" cy="733.2" r="10.6" fill="url(#gp)"/>
<circle cx="955.3" cy="725.7" r="10.6" fill="url(#gp)"/>
<circle cx="964.1" cy="735.1" r="10.6" fill="url(#gp)"/>
<circle cx="1003.1" cy="724.1" r="10.6" fill="url(#gp)"/>
<circle cx="1012.5" cy="734.1" r="10.6" fill="url(#gp)"/>
<circle cx="1057.7" cy="717.6" r="10.6" fill="url(#gp)"/>
<circle cx="1049.9" cy="732.0" r="10.6" fill="url(#gp)"/>
<circle cx="1096.2" cy="727.9" r="10.6" fill="url(#gp)"/>
<circle cx="862.6" cy="785.6" r="10.6" fill="url(#gp)"/>
<circle cx="862.6" cy="799.7" r="10.6" fill="url(#gp)"/>
<circle cx="851.0" cy="822.5" r="10.6" fill="url(#gp)"/>
<circle cx="864.2" cy="829.4" r="10.6" fill="url(#gp)"/>
<circle cx="865.7" cy="846.5" r="10.6" fill="url(#gp)"/>
<circle cx="854.8" cy="868.4" r="10.6" fill="url(#gp)"/>
<circle cx="867.3" cy="873.1" r="10.6" fill="url(#gp)"/>
<circle cx="944.7" cy="810.6" r="10.6" fill="url(#gp)"/>
<circle cx="952.2" cy="820.0" r="10.6" fill="url(#gp)"/>
<circle cx="955.3" cy="868.4" r="10.6" fill="url(#gp)"/>
<circle cx="996.9" cy="852.8" r="10.6" fill="url(#gp)"/>
<circle cx="1044.6" cy="860.6" r="10.6" fill="url(#gp)"/>
<circle cx="1038.1" cy="801.3" r="10.6" fill="url(#gp)"/>
<circle cx="1087.4" cy="790.3" r="10.6" fill="url(#gp)"/>
<circle cx="1085.8" cy="801.3" r="10.6" fill="url(#gp)"/>
<circle cx="1093.6" cy="834.0" r="10.6" fill="url(#gp)"/>
<circle cx="862.6" cy="904.3" r="10.6" fill="url(#gp)"/>
<circle cx="865.7" cy="919.9" r="10.6" fill="url(#gp)"/>
<circle cx="907.9" cy="909.0" r="10.6" fill="url(#gp)"/>
<circle cx="906.3" cy="918.3" r="10.6" fill="url(#gp)"/>
<circle cx="948.5" cy="908.0" r="10.6" fill="url(#gp)"/>
<circle cx="1001.5" cy="909.0" r="10.6" fill="url(#gp)"/>
<circle cx="1040.6" cy="898.7" r="10.6" fill="url(#gp)"/>
<circle cx="1048.4" cy="905.9" r="10.6" fill="url(#gp)"/>
<circle cx="1087.4" cy="904.9" r="10.6" fill="url(#gp)"/>
<circle cx="1096.8" cy="913.7" r="10.6" fill="url(#gp)"/>
<circle cx="1087.4" cy="926.2" r="10.6" fill="url(#gp)"/>
<circle cx="867.3" cy="955.8" r="10.6" fill="url(#gp)"/>
<circle cx="865.7" cy="965.2" r="10.6" fill="url(#gp)"/>
<circle cx="914.1" cy="962.1" r="10.6" fill="url(#gp)"/>
<circle cx="957.8" cy="954.3" r="10.6" fill="url(#gp)"/>
<circle cx="1003.1" cy="956.8" r="10.6" fill="url(#gp)"/>
<circle cx="1020.3" cy="946.5" r="10.6" fill="url(#gp)"/>
<circle cx="1007.8" cy="965.2" r="10.6" fill="url(#gp)"/>
<circle cx="1050.9" cy="962.1" r="10.6" fill="url(#gp)"/>
<circle cx="1060.9" cy="973.0" r="10.6" fill="url(#gp)"/>
<circle cx="1096.8" cy="954.3" r="10.6" fill="url(#gp)"/>
<circle cx="826.1" cy="987.0" r="10.6" fill="url(#gp)"/>
<circle cx="851.0" cy="777.8" r="10.6" fill="url(#go)"/>
<circle cx="911.0" cy="826.2" r="10.6" fill="url(#go)"/>
<circle cx="901.6" cy="857.5" r="10.6" fill="url(#go)"/>
<circle cx="962.5" cy="966.7" r="10.6" fill="url(#go)"/>
<circle cx="1090.5" cy="891.2" r="10.6" fill="url(#go)"/>
<line x1="1348.5" y1="53.9" x2="1403.8" y2="53.9" stroke="#6a6ad6" stroke-width="6.4"/>
<line x1="1348.5" y1="53.9" x2="1403.8" y2="53.9" stroke="#c4c4f6" stroke-width="2"/>
<line x1="1231.6" y1="166.3" x2="1281.3" y2="166.3" stroke="#6a6ad6" stroke-width="6.4"/>
<line x1="1231.6" y1="166.3" x2="1281.3" y2="166.3" stroke="#c4c4f6" stroke-width="2"/>
<line x1="1281.3" y1="166.3" x2="1335.2" y2="170.8" stroke="#6a6ad6" stroke-width="6.4"/>
<line x1="1281.3" y1="166.3" x2="1335.2" y2="170.8" stroke="#c4c4f6" stroke-width="2"/>
<circle cx="1348.5" cy="53.9" r="11" fill="url(#gp)"/>
<circle cx="1403.8" cy="53.9" r="11" fill="url(#gp)"/>
<circle cx="1231.6" cy="166.3" r="11" fill="url(#gp)"/>
<circle cx="1281.3" cy="166.3" r="11" fill="url(#gp)"/>
<circle cx="1335.2" cy="170.8" r="11" fill="url(#gp)"/>
<circle cx="1350.5" cy="175.2" r="11" fill="url(#go)"/>
<line x1="1151.7" y1="250.2" x2="1171.9" y2="250.79999999999998" stroke="#22cc22" stroke-width="1.8"/>
<line x1="1151.7" y1="250.2" x2="1152.0" y2="269.5" stroke="#22cc22" stroke-width="1.8"/>
<line x1="1171.9" y1="250.79999999999998" x2="1192.1000000000001" y2="250.2" stroke="#22cc22" stroke-width="1.8"/>
<line x1="1171.9" y1="250.79999999999998" x2="1172.2" y2="270.1" stroke="#22cc22" stroke-width="1.8"/>
<line x1="1192.1000000000001" y1="250.2" x2="1192.4" y2="269.5" stroke="#22cc22" stroke-width="1.8"/>
<line x1="1152.0" y1="269.5" x2="1172.2" y2="270.1" stroke="#22cc22" stroke-width="1.8"/>
<line x1="1152.0" y1="269.5" x2="1152.3" y2="288.8" stroke="#22cc22" stroke-width="1.8"/>
<line x1="1172.2" y1="270.1" x2="1192.4" y2="269.5" stroke="#22cc22" stroke-width="1.8"/>
<line x1="1172.2" y1="270.1" x2="1172.5" y2="289.40000000000003" stroke="#22cc22" stroke-width="1.8"/>
<line x1="1192.4" y1="269.5" x2="1192.7" y2="288.8" stroke="#22cc22" stroke-width="1.8"/>
<line x1="1152.3" y1="288.8" x2="1172.5" y2="289.40000000000003" stroke="#22cc22" stroke-width="1.8"/>
<line x1="1172.5" y1="289.40000000000003" x2="1192.7" y2="288.8" stroke="#22cc22" stroke-width="1.8"/>
<circle cx="1151.7" cy="250.2" r="3.5" fill="url(#gg)"/>
<circle cx="1171.9" cy="250.79999999999998" r="3.5" fill="url(#gg)"/>
<circle cx="1192.1000000000001" cy="250.2" r="3.5" fill="url(#gg)"/>
<circle cx="1152.0" cy="269.5" r="3.5" fill="url(#gg)"/>
<circle cx="1172.2" cy="270.1" r="3.5" fill="url(#gg)"/>
<circle cx="1192.4" cy="269.5" r="3.5" fill="url(#gg)"/>
<circle cx="1152.3" cy="288.8" r="3.5" fill="url(#gg)"/>
<circle cx="1172.5" cy="289.40000000000003" r="3.5" fill="url(#gg)"/>
<circle cx="1192.7" cy="288.8" r="3.5" fill="url(#gg)"/>
<line x1="1280.4" y1="376.1" x2="1326.9" y2="373.1" stroke="#6a6ad6" stroke-width="6.4"/>
<line x1="1280.4" y1="376.1" x2="1326.9" y2="373.1" stroke="#c4c4f6" stroke-width="2"/>
<line x1="1175.9" y1="470.8" x2="1179.8" y2="516.9" stroke="#6a6ad6" stroke-width="6.4"/>
<line x1="1175.9" y1="470.8" x2="1179.8" y2="516.9" stroke="#c4c4f6" stroke-width="2"/>
<line x1="1287.8" y1="614.6" x2="1310.0" y2="613.7" stroke="#e07a10" stroke-width="5"/>
<line x1="1310.0" y1="613.7" x2="1332.2" y2="612.8" stroke="#6a6ad6" stroke-width="6.4"/>
<line x1="1310.0" y1="613.7" x2="1332.2" y2="612.8" stroke="#c4c4f6" stroke-width="2"/>
<circle cx="1280.4" cy="376.1" r="10.6" fill="url(#gp)"/>
<circle cx="1326.9" cy="373.1" r="10.6" fill="url(#gp)"/>
<circle cx="1337.5" cy="383.8" r="10.6" fill="url(#gp)"/>
<circle cx="1420.4" cy="377.0" r="10.6" fill="url(#gp)"/>
<circle cx="1410.6" cy="440.0" r="10.6" fill="url(#gp)"/>
<circle cx="1187.2" cy="480.5" r="10.6" fill="url(#gp)"/>
<circle cx="1175.9" cy="470.8" r="10.6" fill="url(#gp)"/>
<circle cx="1179.8" cy="516.9" r="10.6" fill="url(#gp)"/>
<circle cx="1326.9" cy="558.4" r="10.6" fill="url(#gp)"/>
<circle cx="1418.6" cy="561.9" r="10.6" fill="url(#gp)"/>
<circle cx="1193.1" cy="603.9" r="10.6" fill="url(#gp)"/>
<circle cx="1332.2" cy="612.8" r="10.6" fill="url(#gp)"/>
<circle cx="1287.8" cy="614.6" r="10.6" fill="url(#go)"/>
<line x1="1256.0" y1="713.2" x2="1309.1" y2="710.1" stroke="#6a6ad6" stroke-width="6.4"/>
<line x1="1256.0" y1="713.2" x2="1309.1" y2="710.1" stroke="#c4c4f6" stroke-width="2"/>
<line x1="1364.7" y1="861.2" x2="1338.2" y2="862.8" stroke="#e07a10" stroke-width="5"/>
<line x1="1338.2" y1="862.8" x2="1311.6" y2="864.3" stroke="#6a6ad6" stroke-width="6.4"/>
<line x1="1338.2" y1="862.8" x2="1311.6" y2="864.3" stroke="#c4c4f6" stroke-width="2"/>
<line x1="1364.7" y1="861.2" x2="1385.0" y2="860.6" stroke="#e07a10" stroke-width="5"/>
<line x1="1385.0" y1="860.6" x2="1405.2" y2="860.0" stroke="#6a6ad6" stroke-width="6.4"/>
<line x1="1385.0" y1="860.6" x2="1405.2" y2="860.0" stroke="#c4c4f6" stroke-width="2"/>
<line x1="1311.6" y1="864.3" x2="1309.1" y2="909.9" stroke="#6a6ad6" stroke-width="6.4"/>
<line x1="1311.6" y1="864.3" x2="1309.1" y2="909.9" stroke="#c4c4f6" stroke-width="2"/>
<line x1="1364.7" y1="861.2" x2="1361.8" y2="885.1" stroke="#e07a10" stroke-width="5"/>
<line x1="1361.8" y1="885.1" x2="1359.0" y2="909.0" stroke="#6a6ad6" stroke-width="6.4"/>
<line x1="1361.8" y1="885.1" x2="1359.0" y2="909.0" stroke="#c4c4f6" stroke-width="2"/>
<line x1="1364.7" y1="861.2" x2="1387.6" y2="884.6" stroke="#e07a10" stroke-width="5"/>
<line x1="1387.6" y1="884.6" x2="1410.5" y2="908.0" stroke="#6a6ad6" stroke-width="6.4"/>
<line x1="1387.6" y1="884.6" x2="1410.5" y2="908.0" stroke="#c4c4f6" stroke-width="2"/>
<line x1="1405.2" y1="860.0" x2="1410.5" y2="908.0" stroke="#6a6ad6" stroke-width="6.4"/>
<line x1="1405.2" y1="860.0" x2="1410.5" y2="908.0" stroke="#c4c4f6" stroke-width="2"/>
<line x1="1203.9" y1="909.9" x2="1257.6" y2="916.8" stroke="#6a6ad6" stroke-width="6.4"/>
<line x1="1203.9" y1="909.9" x2="1257.6" y2="916.8" stroke="#c4c4f6" stroke-width="2"/>
<line x1="1257.6" y1="916.8" x2="1309.1" y2="909.9" stroke="#6a6ad6" stroke-width="6.4"/>
<line x1="1257.6" y1="916.8" x2="1309.1" y2="909.9" stroke="#c4c4f6" stroke-width="2"/>
<line x1="1309.1" y1="909.9" x2="1359.0" y2="909.0" stroke="#6a6ad6" stroke-width="6.4"/>
<line x1="1309.1" y1="909.9" x2="1359.0" y2="909.0" stroke="#c4c4f6" stroke-width="2"/>
<line x1="1359.0" y1="909.0" x2="1410.5" y2="908.0" stroke="#6a6ad6" stroke-width="6.4"/>
<line x1="1359.0" y1="909.0" x2="1410.5" y2="908.0" stroke="#c4c4f6" stroke-width="2"/>
<line x1="1203.9" y1="909.9" x2="1207.6" y2="964.2" stroke="#6a6ad6" stroke-width="6.4"/>
<line x1="1203.9" y1="909.9" x2="1207.6" y2="964.2" stroke="#c4c4f6" stroke-width="2"/>
<line x1="1257.6" y1="916.8" x2="1259.1" y2="968.3" stroke="#6a6ad6" stroke-width="6.4"/>
<line x1="1257.6" y1="916.8" x2="1259.1" y2="968.3" stroke="#c4c4f6" stroke-width="2"/>
<line x1="1309.1" y1="909.9" x2="1315.3" y2="966.1" stroke="#6a6ad6" stroke-width="6.4"/>
<line x1="1309.1" y1="909.9" x2="1315.3" y2="966.1" stroke="#c4c4f6" stroke-width="2"/>
<line x1="1359.0" y1="909.0" x2="1363.7" y2="963.0" stroke="#6a6ad6" stroke-width="6.4"/>
<line x1="1359.0" y1="909.0" x2="1363.7" y2="963.0" stroke="#c4c4f6" stroke-width="2"/>
<line x1="1410.5" y1="908.0" x2="1413.7" y2="968.3" stroke="#6a6ad6" stroke-width="6.4"/>
<line x1="1410.5" y1="908.0" x2="1413.7" y2="968.3" stroke="#c4c4f6" stroke-width="2"/>
<line x1="1207.6" y1="964.2" x2="1259.1" y2="968.3" stroke="#6a6ad6" stroke-width="6.4"/>
<line x1="1207.6" y1="964.2" x2="1259.1" y2="968.3" stroke="#c4c4f6" stroke-width="2"/>
<line x1="1259.1" y1="968.3" x2="1315.3" y2="966.1" stroke="#6a6ad6" stroke-width="6.4"/>
<line x1="1259.1" y1="968.3" x2="1315.3" y2="966.1" stroke="#c4c4f6" stroke-width="2"/>
<line x1="1315.3" y1="966.1" x2="1363.7" y2="963.0" stroke="#6a6ad6" stroke-width="6.4"/>
<line x1="1315.3" y1="966.1" x2="1363.7" y2="963.0" stroke="#c4c4f6" stroke-width="2"/>
<line x1="1363.7" y1="963.0" x2="1413.7" y2="968.3" stroke="#6a6ad6" stroke-width="6.4"/>
<line x1="1363.7" y1="963.0" x2="1413.7" y2="968.3" stroke="#c4c4f6" stroke-width="2"/>
<line x1="1207.6" y1="964.2" x2="1257.6" y2="916.8" stroke="#6a6ad6" stroke-width="6.4"/>
<line x1="1207.6" y1="964.2" x2="1257.6" y2="916.8" stroke="#c4c4f6" stroke-width="2"/>
<line x1="1312.2" y1="921.4" x2="1368.4" y2="919.9" stroke="#6a6ad6" stroke-width="6.4"/>
<line x1="1312.2" y1="921.4" x2="1368.4" y2="919.9" stroke="#c4c4f6" stroke-width="2"/>
<circle cx="1249.8" cy="707.6" r="11" fill="url(#gp)"/>
<circle cx="1256.0" cy="713.2" r="11" fill="url(#gp)"/>
<circle cx="1309.1" cy="710.1" r="11" fill="url(#gp)"/>
<circle cx="1314.7" cy="703.8" r="11" fill="url(#gp)"/>
<circle cx="1367.5" cy="763.8" r="11" fill="url(#go)"/>
<circle cx="1211.7" cy="871.5" r="11" fill="url(#gp)"/>
<circle cx="1311.6" cy="864.3" r="11" fill="url(#gp)"/>
<circle cx="1364.7" cy="861.2" r="11" fill="url(#go)"/>
<circle cx="1416.8" cy="855.9" r="11" fill="url(#gp)"/>
<circle cx="1405.2" cy="860.0" r="11" fill="url(#gp)"/>
<circle cx="1203.9" cy="909.9" r="11" fill="url(#gp)"/>
<circle cx="1257.6" cy="916.8" r="11" fill="url(#gp)"/>
<circle cx="1312.2" cy="921.4" r="11" fill="url(#gp)"/>
<circle cx="1309.1" cy="909.9" r="11" fill="url(#gp)"/>
<circle cx="1368.4" cy="919.9" r="11" fill="url(#gp)"/>
<circle cx="1359.0" cy="909.0" r="11" fill="url(#gp)"/>
<circle cx="1410.5" cy="908.0" r="11" fill="url(#gp)"/>
<circle cx="1207.6" cy="964.2" r="11" fill="url(#gp)"/>
<circle cx="1265.4" cy="960.5" r="11" fill="url(#gp)"/>
<circle cx="1259.1" cy="968.3" r="11" fill="url(#gp)"/>
<circle cx="1315.3" cy="966.1" r="11" fill="url(#gp)"/>
<circle cx="1363.7" cy="963.0" r="11" fill="url(#gp)"/>
<circle cx="1413.7" cy="968.3" r="11" fill="url(#gp)"/>
</svg>
</body></html>
